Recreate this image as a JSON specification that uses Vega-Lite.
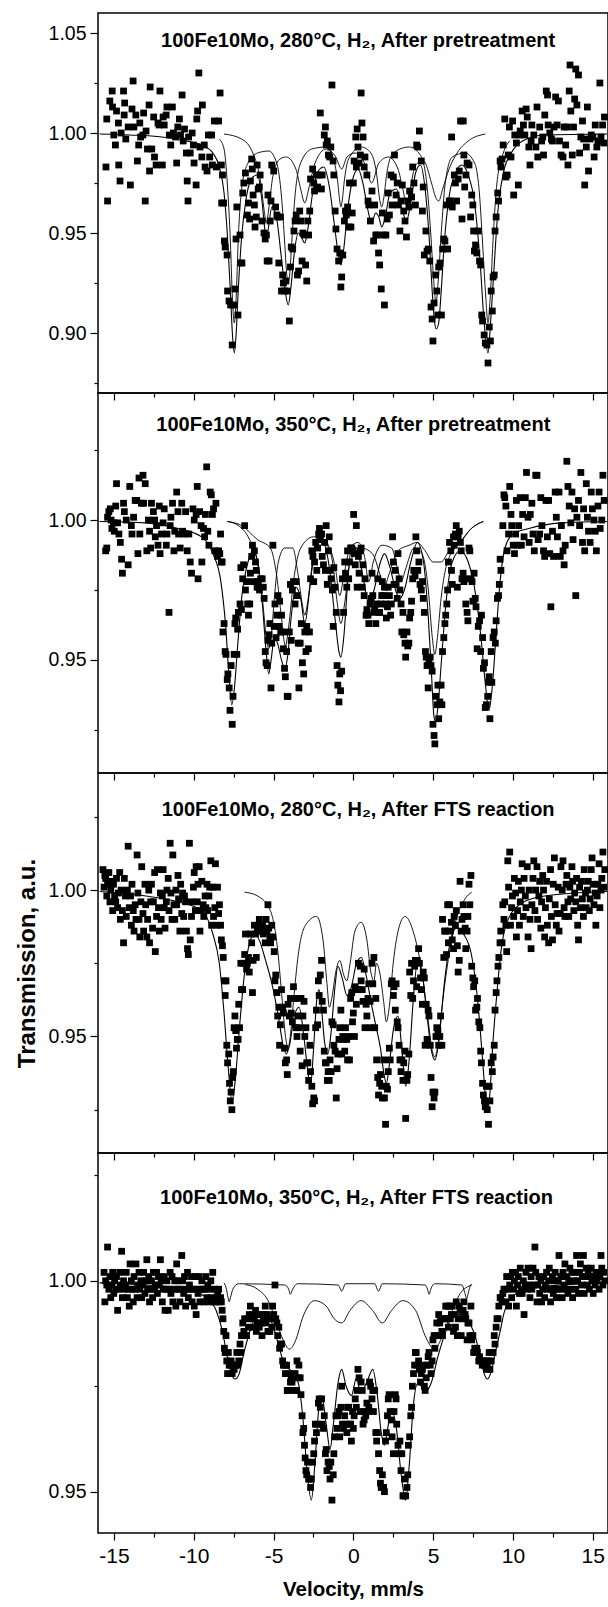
{
"$schema": "https://vega.github.io/schema/vega-lite/v6.json",
"background": "white",
"padding": {"left": 14, "top": 12, "right": 0, "bottom": 0},
"spacing": 0,
"bounds": "flush",
"config": {"view": {"stroke": "black", "strokeWidth": 1.5}, "font": "Liberation Sans",
 "axis": {"labelFont": "Liberation Sans", "titleFont": "Liberation Sans", "labelColor": "black", "titleColor": "black", "tickColor": "black", "tickWidth": 1.2, "domain": false, "grid": false}},
"datasets": {
"p1": [{"v":-15.5,"t":0.983},{"v":-15.4,"t":0.966},{"v":-15.45,"t":1.007},{"v":-15.26,"t":1.016},{"v":-15.11,"t":1.021},{"v":-15.09,"t":1.013},{"v":-15.01,"t":0.999},{"v":-14.91,"t":0.994},{"v":-14.84,"t":1.011},{"v":-14.72,"t":1.005},{"v":-14.7,"t":0.984},{"v":-14.62,"t":0.976},{"v":-14.55,"t":1.0},{"v":-14.4,"t":1.021},{"v":-14.36,"t":1.009},{"v":-14.33,"t":1.015},{"v":-14.26,"t":0.997},{"v":-14.11,"t":1.003},{"v":-13.97,"t":0.974},{"v":-13.87,"t":1.012},{"v":-13.8,"t":1.026},{"v":-13.75,"t":1.003},{"v":-13.63,"t":1.009},{"v":-13.53,"t":0.986},{"v":-13.45,"t":0.994},{"v":-13.38,"t":1.005},{"v":-13.33,"t":0.998},{"v":-13.19,"t":0.999},{"v":-13.14,"t":1.01},{"v":-13.04,"t":0.966},{"v":-12.99,"t":1.001},{"v":-12.9,"t":0.992},{"v":-12.8,"t":1.014},{"v":-12.77,"t":0.981},{"v":-12.73,"t":1.023},{"v":-12.63,"t":0.992},{"v":-12.51,"t":1.008},{"v":-12.46,"t":0.988},{"v":-12.36,"t":0.984},{"v":-12.24,"t":1.005},{"v":-12.17,"t":1.004},{"v":-12.12,"t":1.021},{"v":-11.97,"t":0.984},{"v":-11.92,"t":1.008},{"v":-11.85,"t":1.004},{"v":-11.73,"t":1.009},{"v":-11.68,"t":1.013},{"v":-11.53,"t":0.999},{"v":-11.44,"t":0.994},{"v":-11.34,"t":1.013},{"v":-11.27,"t":1.0},{"v":-11.14,"t":0.998},{"v":-11.07,"t":0.985},{"v":-11.0,"t":1.003},{"v":-10.9,"t":1.007},{"v":-10.83,"t":0.999},{"v":-10.73,"t":1.019},{"v":-10.66,"t":0.996},{"v":-10.58,"t":1.002},{"v":-10.46,"t":0.99},{"v":-10.41,"t":0.976},{"v":-10.36,"t":0.966},{"v":-10.32,"t":0.998},{"v":-10.22,"t":0.99},{"v":-10.1,"t":1.0},{"v":-10.02,"t":0.994},{"v":-9.98,"t":0.985},{"v":-9.85,"t":0.974},{"v":-9.81,"t":1.007},{"v":-9.76,"t":1.011},{"v":-9.68,"t":1.03},{"v":-9.61,"t":0.993},{"v":-9.49,"t":0.988},{"v":-9.46,"t":1.014},{"v":-9.34,"t":0.994},{"v":-9.29,"t":0.983},{"v":-9.17,"t":0.981},{"v":-9.08,"t":0.999},{"v":-9.0,"t":0.988},{"v":-8.88,"t":0.999},{"v":-8.83,"t":0.984},{"v":-8.71,"t":1.006},{"v":-8.59,"t":0.983},{"v":-8.44,"t":1.006},{"v":-8.35,"t":1.02},{"v":-8.27,"t":0.984},{"v":-8.25,"t":0.965},
{"v":-8.2,"t":0.979},{"v":-8.13,"t":0.965},{"v":-8.08,"t":0.946},{"v":-8.03,"t":0.943},{"v":-7.91,"t":0.939},{"v":-7.88,"t":0.921},{"v":-7.79,"t":0.916},{"v":-7.69,"t":0.914},{"v":-7.59,"t":0.894},{"v":-7.49,"t":0.914},{"v":-7.42,"t":0.922},{"v":-7.35,"t":0.947},{"v":-7.3,"t":0.963},{"v":-7.23,"t":0.909},{"v":-7.1,"t":0.949},{"v":-7.06,"t":0.935},{"v":-6.98,"t":0.935},{"v":-6.93,"t":0.97},{"v":-6.86,"t":0.975},{"v":-6.76,"t":0.98},{"v":-6.64,"t":0.959},{"v":-6.57,"t":0.965},{"v":-6.5,"t":0.957},{"v":-6.45,"t":0.976},{"v":-6.37,"t":0.987},{"v":-6.33,"t":0.982},{"v":-6.28,"t":0.969},{"v":-6.2,"t":0.964},{"v":-6.16,"t":0.953},{"v":-6.08,"t":0.958},{"v":-6.03,"t":0.984},{"v":-5.96,"t":0.972},{"v":-5.89,"t":0.973},{"v":-5.84,"t":0.979},{"v":-5.72,"t":0.956},{"v":-5.6,"t":0.95},{"v":-5.52,"t":0.947},{"v":-5.45,"t":0.949},{"v":-5.4,"t":0.936},{"v":-5.35,"t":0.969},{"v":-5.28,"t":0.936},{"v":-5.21,"t":0.956},{"v":-5.16,"t":0.966},{"v":-5.11,"t":0.984},{"v":-4.99,"t":0.981},{"v":-4.87,"t":0.963},{"v":-4.79,"t":0.959},{"v":-4.74,"t":0.958},{"v":-4.67,"t":0.935},{"v":-4.57,"t":0.958},{"v":-4.5,"t":0.921},{"v":-4.43,"t":0.929},{"v":-4.38,"t":0.925},{"v":-4.31,"t":0.921},{"v":-4.23,"t":0.926},{"v":-4.14,"t":0.921},{"v":-4.01,"t":0.906},{"v":-3.94,"t":0.933},{"v":-3.89,"t":0.943},{"v":-3.8,"t":0.942},{"v":-3.72,"t":0.951},{"v":-3.65,"t":0.956},{"v":-3.58,"t":0.959},{"v":-3.5,"t":0.929},{"v":-3.43,"t":0.931},{"v":-3.36,"t":0.961},{"v":-3.28,"t":0.956},{"v":-3.21,"t":0.936},{"v":-3.16,"t":0.95},{"v":-3.07,"t":0.949},{"v":-2.99,"t":0.934},{"v":-2.92,"t":0.926},{"v":-2.85,"t":0.956},{"v":-2.8,"t":0.949},{"v":-2.73,"t":0.961},{"v":-2.68,"t":0.977},{"v":-2.55,"t":0.982},{"v":-2.48,"t":0.975},{"v":-2.43,"t":0.971},{"v":-2.31,"t":0.979},{"v":-2.24,"t":0.973},{"v":-2.14,"t":0.979},{"v":-2.07,"t":1.01},{"v":-2.0,"t":0.972},{"v":-1.95,"t":0.979},{"v":-1.82,"t":0.999},{"v":-1.75,"t":1.003},{"v":-1.7,"t":0.994},{"v":-1.63,"t":0.996},{"v":-1.56,"t":0.989},{"v":-1.48,"t":0.988},{"v":-1.41,"t":0.993},{"v":-1.34,"t":1.024},{"v":-1.27,"t":0.986},{"v":-1.22,"t":0.979},{"v":-1.14,"t":0.961},{"v":-1.09,"t":0.952},{"v":-1.02,"t":0.942},{"v":-0.92,"t":0.936},{"v":-0.85,"t":0.94},{"v":-0.78,"t":0.923},{"v":-0.73,"t":0.928},{"v":-0.66,"t":0.939},{"v":-0.56,"t":0.956},{"v":-0.49,"t":0.961},{"v":-0.44,"t":0.959},{"v":-0.36,"t":0.963},{"v":-0.29,"t":0.953},{"v":-0.24,"t":0.975},{"v":-0.15,"t":0.953},{"v":-0.07,"t":0.96},{"v":0,"t":0.975},{"v":0.05,"t":0.986},{"v":0.15,"t":0.998},{"v":0.19,"t":0.983},{"v":0.24,"t":1.002},{"v":0.29,"t":0.993},{"v":0.36,"t":0.985},{"v":0.44,"t":0.989},{"v":0.49,"t":1.02},{"v":0.54,"t":1.005},{"v":0.61,"t":0.998},{"v":0.68,"t":0.983},{"v":0.73,"t":0.988},{"v":0.85,"t":0.979},{"v":0.92,"t":0.966},{"v":0.97,"t":0.964},{"v":1.07,"t":0.956},{"v":1.17,"t":0.971},{"v":1.27,"t":0.946},{"v":1.34,"t":0.964},{"v":1.41,"t":0.949},{"v":1.51,"t":0.949},{"v":1.58,"t":0.94},{"v":1.65,"t":0.934},{"v":1.75,"t":0.922},{"v":1.82,"t":0.96},{"v":1.9,"t":0.949},{"v":1.95,"t":0.914},{"v":2.04,"t":0.949},{"v":2.12,"t":0.957},{"v":2.19,"t":0.97},{"v":2.26,"t":0.959},{"v":2.36,"t":0.979},{"v":2.43,"t":0.964},{"v":2.51,"t":0.978},{"v":2.58,"t":0.989},{"v":2.68,"t":0.969},{"v":2.75,"t":0.975},{"v":2.8,"t":0.964},{"v":2.92,"t":0.951},{"v":2.99,"t":0.966},{"v":3.07,"t":0.974},{"v":3.16,"t":0.961},{"v":3.24,"t":0.956},{"v":3.33,"t":0.948},{"v":3.41,"t":0.966},{"v":3.48,"t":0.963},{"v":3.53,"t":0.971},{"v":3.65,"t":0.968},{"v":3.72,"t":0.983},{"v":3.8,"t":0.975},{"v":3.89,"t":0.964},{"v":3.97,"t":0.994},{"v":4.04,"t":0.993},{"v":4.14,"t":1.001},{"v":4.26,"t":0.986},{"v":4.33,"t":0.961},{"v":4.38,"t":0.973},{"v":4.45,"t":0.939},{"v":4.55,"t":0.951},{"v":4.62,"t":0.941},{"v":4.7,"t":0.942},{"v":4.79,"t":0.936},{"v":4.87,"t":0.913},{"v":4.94,"t":0.907},{"v":4.99,"t":0.896},{"v":5.06,"t":0.915},{"v":5.16,"t":0.929},{"v":5.23,"t":0.921},{"v":5.3,"t":0.909},{"v":5.35,"t":0.933},{"v":5.43,"t":0.935},{"v":5.52,"t":0.909},{"v":5.6,"t":0.942},{"v":5.67,"t":0.947},{"v":5.74,"t":0.946},{"v":5.84,"t":0.964},{"v":5.91,"t":0.942},{"v":6.01,"t":0.966},{"v":6.08,"t":0.966},{"v":6.16,"t":0.998},{"v":6.2,"t":0.963},{"v":6.33,"t":0.979},{"v":6.4,"t":0.975},{"v":6.47,"t":0.966},{"v":6.57,"t":0.977},{"v":6.64,"t":0.981},{"v":6.72,"t":1.006},{"v":6.81,"t":0.957},{"v":6.89,"t":1.006},{"v":6.93,"t":0.989},{"v":6.98,"t":0.973},{"v":7.06,"t":0.979},{"v":7.13,"t":0.985},{"v":7.25,"t":0.984},{"v":7.35,"t":0.958},{"v":7.42,"t":0.969},{"v":7.49,"t":0.964},{"v":7.54,"t":0.951},{"v":7.59,"t":0.941},{"v":7.66,"t":0.944},{"v":7.74,"t":0.94},{"v":7.83,"t":0.951},{"v":7.91,"t":0.936},{"v":7.98,"t":0.934},{"v":8.05,"t":0.909},{"v":8.1,"t":0.906},{"v":8.2,"t":0.899},{"v":8.27,"t":0.895},{"v":8.37,"t":0.894},{"v":8.44,"t":0.885},{"v":8.52,"t":0.903},{"v":8.59,"t":0.896},{"v":8.64,"t":0.921},{"v":8.71,"t":0.911},{"v":8.76,"t":0.928},{"v":8.83,"t":0.929},{"v":8.88,"t":0.951},{"v":8.95,"t":0.958},{"v":9.05,"t":0.97},{"v":9.1,"t":0.966},{"v":9.2,"t":0.986},{"v":9.25,"t":0.983},
{"v":9.32,"t":0.987},{"v":9.39,"t":0.994},{"v":9.49,"t":1.007},{"v":9.56,"t":0.978},{"v":9.64,"t":0.979},{"v":9.71,"t":0.989},{"v":9.78,"t":1.003},{"v":9.88,"t":0.988},{"v":9.98,"t":1.006},{"v":10.05,"t":0.969},{"v":10.12,"t":0.999},{"v":10.22,"t":0.995},{"v":10.34,"t":0.974},{"v":10.41,"t":0.999},{"v":10.46,"t":1.001},{"v":10.58,"t":1.011},{"v":10.66,"t":1.004},{"v":10.75,"t":0.999},{"v":10.83,"t":1.012},{"v":10.9,"t":1.008},{"v":11.0,"t":0.993},{"v":11.07,"t":0.984},{"v":11.14,"t":0.996},{"v":11.19,"t":1.004},{"v":11.31,"t":0.999},{"v":11.44,"t":0.993},{"v":11.51,"t":1.013},{"v":11.56,"t":0.988},{"v":11.68,"t":1.003},{"v":11.8,"t":0.996},{"v":11.87,"t":0.998},{"v":11.92,"t":0.989},{"v":12.0,"t":1.009},{"v":12.09,"t":1.021},{"v":12.17,"t":1.019},{"v":12.21,"t":1.004},{"v":12.31,"t":1.0},{"v":12.41,"t":0.997},{"v":12.48,"t":0.996},{"v":12.58,"t":1.003},{"v":12.68,"t":1.018},{"v":12.77,"t":1.004},{"v":12.85,"t":1.016},{"v":12.92,"t":0.996},{"v":13.02,"t":0.989},{"v":13.14,"t":0.988},{"v":13.21,"t":1.003},{"v":13.31,"t":0.994},{"v":13.38,"t":1.003},{"v":13.45,"t":0.984},{"v":13.53,"t":1.021},{"v":13.58,"t":1.034},{"v":13.63,"t":1.011},{"v":13.72,"t":0.989},{"v":13.8,"t":1.003},{"v":13.87,"t":1.017},{"v":13.94,"t":1.032},{"v":14.01,"t":1.014},{"v":14.11,"t":1.029},{"v":14.18,"t":0.99},{"v":14.26,"t":0.998},{"v":14.36,"t":1.006},{"v":14.43,"t":0.997},{"v":14.5,"t":0.974},{"v":14.6,"t":0.993},{"v":14.67,"t":1.013},{"v":14.74,"t":0.981},{"v":14.84,"t":0.997},{"v":14.91,"t":0.999},{"v":15.01,"t":0.998},{"v":15.09,"t":0.988},{"v":15.16,"t":1.004},{"v":15.26,"t":0.993},{"v":15.33,"t":0.996},{"v":15.45,"t":1.025},{"v":15.52,"t":0.998},{"v":15.62,"t":1.004},{"v":15.69,"t":0.995},{"v":15.74,"t":1.008}],
"f1": [{"v":-15.9,"t":0.9995},{"v":-14,"t":0.999},{"v":-12,"t":0.998},{"v":-10.5,"t":0.996},{"v":-9.5,"t":0.994},{"v":-8.8,"t":0.99},{"v":-8.4,"t":0.983},{"v":-8.1,"t":0.97},{"v":-7.9,"t":0.95},{"v":-7.7,"t":0.92},{"v":-7.58,"t":0.9},{"v":-7.46,"t":0.89},{"v":-7.34,"t":0.9},{"v":-7.22,"t":0.92},{"v":-7.0,"t":0.948},{"v":-6.7,"t":0.968},{"v":-6.3,"t":0.978},{"v":-6.0,"t":0.979},{"v":-5.75,"t":0.968},{"v":-5.55,"t":0.952},{"v":-5.45,"t":0.946},{"v":-5.33,"t":0.952},{"v":-5.1,"t":0.963},{"v":-4.8,"t":0.957},{"v":-4.5,"t":0.937},{"v":-4.25,"t":0.92},{"v":-4.08,"t":0.914},{"v":-3.92,"t":0.922},{"v":-3.7,"t":0.94},{"v":-3.45,"t":0.95},{"v":-3.2,"t":0.947},{"v":-3.04,"t":0.945},{"v":-2.85,"t":0.952},{"v":-2.55,"t":0.97},{"v":-2.2,"t":0.981},{"v":-1.85,"t":0.983},{"v":-1.5,"t":0.973},{"v":-1.2,"t":0.955},{"v":-0.95,"t":0.94},{"v":-0.78,"t":0.934},{"v":-0.6,"t":0.942},{"v":-0.35,"t":0.962},{"v":0,"t":0.978},{"v":0.3,"t":0.982},{"v":0.6,"t":0.975},{"v":0.9,"t":0.962},{"v":1.15,"t":0.955},{"v":1.4,"t":0.96},{"v":1.6,"t":0.958},{"v":1.78,"t":0.953},{"v":2.0,"t":0.958},{"v":2.3,"t":0.97},{"v":2.7,"t":0.972},{"v":3.05,"t":0.962},{"v":3.33,"t":0.956},{"v":3.6,"t":0.965},{"v":3.9,"t":0.98},{"v":4.2,"t":0.984},{"v":4.5,"t":0.972},{"v":4.75,"t":0.948},{"v":4.95,"t":0.92},{"v":5.1,"t":0.905},{"v":5.2,"t":0.902},{"v":5.35,"t":0.905},{"v":5.5,"t":0.92},{"v":5.7,"t":0.945},{"v":6.0,"t":0.968},{"v":6.4,"t":0.98},{"v":6.8,"t":0.984},{"v":7.2,"t":0.979},{"v":7.6,"t":0.965},{"v":7.95,"t":0.935},{"v":8.2,"t":0.905},{"v":8.44,"t":0.89},{"v":8.6,"t":0.905},{"v":8.8,"t":0.93},{"v":9.05,"t":0.96},{"v":9.4,"t":0.98},{"v":9.9,"t":0.99},{"v":10.6,"t":0.996},{"v":12,"t":0.999},{"v":15.9,"t":0.9995}],
"a1": [{"v":-8.4,"t":0.997},{"v":-8.1,"t":0.992},{"v":-7.9,"t":0.975},{"v":-7.7,"t":0.945},{"v":-7.58,"t":0.918},{"v":-7.46,"t":0.905},{"v":-7.34,"t":0.918},{"v":-7.22,"t":0.945},{"v":-7.0,"t":0.972},{"v":-6.6,"t":0.985},{"v":-6.0,"t":0.99},{"v":-5.3,"t":0.991},{"v":-4.8,"t":0.985},{"v":-4.5,"t":0.968},{"v":-4.3,"t":0.945},{"v":-4.18,"t":0.93},{"v":-4.08,"t":0.925},{"v":-3.98,"t":0.93},{"v":-3.86,"t":0.945},{"v":-3.66,"t":0.968},{"v":-3.3,"t":0.985},{"v":-2.6,"t":0.992},{"v":-1.7,"t":0.993},{"v":-1.25,"t":0.987},{"v":-1.0,"t":0.977},{"v":-0.85,"t":0.966},{"v":-0.78,"t":0.963},{"v":-0.7,"t":0.966},{"v":-0.55,"t":0.977},{"v":-0.3,"t":0.987},{"v":0.5,"t":0.993},{"v":1.1,"t":0.99},{"v":1.45,"t":0.98},{"v":1.65,"t":0.967},{"v":1.78,"t":0.963},{"v":1.9,"t":0.967},{"v":2.1,"t":0.98},{"v":2.5,"t":0.99},{"v":3.5,"t":0.993},{"v":4.2,"t":0.989},{"v":4.6,"t":0.975},{"v":4.85,"t":0.95},{"v":5.05,"t":0.925},{"v":5.18,"t":0.915},{"v":5.31,"t":0.925},{"v":5.51,"t":0.95},{"v":5.76,"t":0.975},{"v":6.2,"t":0.988},{"v":7.0,"t":0.99},{"v":7.6,"t":0.985},{"v":7.9,"t":0.97},{"v":8.1,"t":0.945},{"v":8.3,"t":0.918},{"v":8.44,"t":0.905},{"v":8.58,"t":0.918},{"v":8.78,"t":0.95},{"v":9.0,"t":0.975},{"v":9.4,"t":0.99},{"v":9.8,"t":0.996}],
"b1": [{"v":-8.1,"t":0.9995},{"v":-7.0,"t":0.997},{"v":-6.3,"t":0.99},{"v":-5.8,"t":0.975},{"v":-5.6,"t":0.962},{"v":-5.45,"t":0.955},{"v":-5.3,"t":0.962},{"v":-5.05,"t":0.978},{"v":-4.6,"t":0.987},{"v":-4.2,"t":0.988},{"v":-3.6,"t":0.982},{"v":-3.3,"t":0.972},{"v":-3.04,"t":0.965},{"v":-2.8,"t":0.972},{"v":-2.4,"t":0.985},{"v":-1.7,"t":0.992},{"v":-1.1,"t":0.988},{"v":-0.73,"t":0.982},{"v":-0.4,"t":0.988},{"v":0.1,"t":0.99},{"v":0.7,"t":0.985},{"v":1.15,"t":0.975},{"v":1.6,"t":0.985},{"v":2.2,"t":0.988},{"v":2.8,"t":0.982},{"v":3.1,"t":0.972},{"v":3.33,"t":0.965},{"v":3.56,"t":0.972},{"v":3.9,"t":0.984},{"v":4.4,"t":0.986},{"v":4.9,"t":0.975},{"v":5.15,"t":0.968},{"v":5.35,"t":0.966},{"v":5.6,"t":0.972},{"v":6.0,"t":0.982},{"v":6.5,"t":0.99},{"v":7.2,"t":0.996},{"v":8.27,"t":0.9995}],
"p2": [{"v":-15.52,"t":0.989},{"v":-15.45,"t":0.99},{"v":-15.4,"t":1.001},{"v":-15.32,"t":1.003},{"v":-15.23,"t":1.004},{"v":-15.18,"t":1.0},{"v":-15.13,"t":0.997},{"v":-15.03,"t":0.999},{"v":-14.98,"t":0.996},{"v":-14.89,"t":1.005},{"v":-14.84,"t":1.013},{"v":-14.77,"t":0.999},{"v":-14.69,"t":0.995},{"v":-14.6,"t":0.992},{"v":-14.52,"t":0.986},{"v":-14.47,"t":0.981},{"v":-14.4,"t":1.006},{"v":-14.35,"t":1.003},{"v":-14.23,"t":1.0},{"v":-14.11,"t":0.984},{"v":-14.01,"t":1.012},{"v":-13.91,"t":0.998},{"v":-13.87,"t":0.995},{"v":-13.77,"t":1.001},{"v":-13.67,"t":1.007},{"v":-13.57,"t":1.007},{"v":-13.5,"t":0.988},{"v":-13.43,"t":1.015},{"v":-13.38,"t":0.995},{"v":-13.28,"t":1.006},{"v":-13.18,"t":1.016},{"v":-13.14,"t":1.006},{"v":-13.04,"t":1.013},{"v":-12.94,"t":0.989},{"v":-12.84,"t":1.0},{"v":-12.77,"t":0.996},{"v":-12.7,"t":0.99},{"v":-12.65,"t":1.006},{"v":-12.53,"t":1.003},{"v":-12.45,"t":1.0},{"v":-12.41,"t":0.994},{"v":-12.33,"t":0.998},{"v":-12.24,"t":0.991},{"v":-12.16,"t":1.005},{"v":-12.11,"t":0.988},{"v":-12.02,"t":0.995},{"v":-11.92,"t":0.999},{"v":-11.85,"t":1.004},{"v":-11.72,"t":0.991},{"v":-11.68,"t":0.995},{"v":-11.55,"t":0.967},{"v":-11.48,"t":0.998},{"v":-11.43,"t":1.001},{"v":-11.33,"t":1.006},{"v":-11.24,"t":0.989},{"v":-11.19,"t":0.996},{"v":-11.07,"t":1.01},{"v":-10.99,"t":1.003},{"v":-10.95,"t":0.995},{"v":-10.85,"t":0.99},{"v":-10.75,"t":1.006},{"v":-10.7,"t":0.996},{"v":-10.61,"t":0.995},{"v":-10.51,"t":1.003},{"v":-10.41,"t":0.989},{"v":-10.31,"t":0.995},{"v":-10.22,"t":0.985},{"v":-10.14,"t":0.981},{"v":-10.05,"t":1.004},{"v":-9.97,"t":1.0},{"v":-9.85,"t":1.002},{"v":-9.78,"t":1.012},{"v":-9.73,"t":0.979},{"v":-9.63,"t":1.003},{"v":-9.54,"t":0.998},{"v":-9.49,"t":0.985},{"v":-9.39,"t":0.997},{"v":-9.32,"t":0.994},{"v":-9.27,"t":1.002},{"v":-9.19,"t":1.019},{"v":-9.12,"t":0.996},{"v":-9.05,"t":0.991},{"v":-8.97,"t":1.01},{"v":-8.9,"t":1.009},{"v":-8.83,"t":1.002},{"v":-8.76,"t":1.004},{"v":-8.68,"t":0.989},{"v":-8.61,"t":1.006},{"v":-8.51,"t":0.987},{"v":-8.44,"t":0.989},{"v":-8.37,"t":0.988},{"v":-8.32,"t":0.995},{"v":-8.27,"t":0.985},
{"v":-8.22,"t":0.985},{"v":-8.17,"t":0.96},{"v":-8.1,"t":0.963},{"v":-8.03,"t":0.953},{"v":-7.98,"t":0.952},{"v":-7.9,"t":0.943},{"v":-7.86,"t":0.945},{"v":-7.78,"t":0.94},{"v":-7.73,"t":0.932},{"v":-7.66,"t":0.948},{"v":-7.59,"t":0.927},{"v":-7.54,"t":0.937},{"v":-7.47,"t":0.952},{"v":-7.42,"t":0.963},{"v":-7.37,"t":0.965},{"v":-7.3,"t":0.952},{"v":-7.25,"t":0.961},{"v":-7.2,"t":0.967},{"v":-7.1,"t":0.97},{"v":-7.05,"t":0.983},{"v":-7.01,"t":0.968},{"v":-6.93,"t":0.979},{"v":-6.88,"t":0.984},{"v":-6.81,"t":0.998},{"v":-6.76,"t":0.975},{"v":-6.69,"t":0.978},{"v":-6.62,"t":0.97},{"v":-6.57,"t":0.966},{"v":-6.49,"t":0.97},{"v":-6.45,"t":0.981},{"v":-6.37,"t":0.987},{"v":-6.32,"t":0.991},{"v":-6.27,"t":0.978},{"v":-6.2,"t":0.989},{"v":-6.13,"t":0.985},{"v":-6.08,"t":0.982},{"v":-6.03,"t":0.976},{"v":-5.96,"t":0.978},{"v":-5.88,"t":0.975},{"v":-5.81,"t":0.979},{"v":-5.71,"t":0.979},{"v":-5.64,"t":0.976},{"v":-5.59,"t":0.972},{"v":-5.52,"t":0.953},{"v":-5.47,"t":0.949},{"v":-5.4,"t":0.948},{"v":-5.35,"t":0.957},{"v":-5.28,"t":0.959},{"v":-5.23,"t":0.963},{"v":-5.16,"t":0.94},{"v":-5.11,"t":0.956},{"v":-5.04,"t":0.991},{"v":-4.96,"t":0.962},{"v":-4.91,"t":0.97},{"v":-4.84,"t":0.958},{"v":-4.79,"t":0.966},{"v":-4.72,"t":0.973},{"v":-4.67,"t":0.962},{"v":-4.62,"t":0.971},{"v":-4.55,"t":0.96},{"v":-4.5,"t":0.966},{"v":-4.43,"t":0.96},{"v":-4.38,"t":0.954},{"v":-4.31,"t":0.947},{"v":-4.26,"t":0.944},{"v":-4.18,"t":0.953},{"v":-4.14,"t":0.937},{"v":-4.09,"t":0.937},{"v":-4.01,"t":0.96},{"v":-3.94,"t":0.977},{"v":-3.89,"t":0.957},{"v":-3.82,"t":0.975},{"v":-3.75,"t":0.978},{"v":-3.65,"t":0.97},{"v":-3.58,"t":0.978},{"v":-3.53,"t":0.973},{"v":-3.45,"t":0.956},{"v":-3.41,"t":0.94},{"v":-3.33,"t":0.956},{"v":-3.26,"t":0.963},{"v":-3.19,"t":0.949},{"v":-3.11,"t":0.945},{"v":-3.04,"t":0.96},{"v":-2.97,"t":0.953},{"v":-2.92,"t":0.962},{"v":-2.82,"t":0.954},{"v":-2.75,"t":0.96},{"v":-2.68,"t":0.979},{"v":-2.6,"t":0.989},{"v":-2.53,"t":0.987},{"v":-2.48,"t":0.978},{"v":-2.43,"t":0.985},{"v":-2.36,"t":0.992},{"v":-2.29,"t":0.982},{"v":-2.24,"t":0.99},{"v":-2.17,"t":0.995},{"v":-2.12,"t":0.997},{"v":-2.07,"t":0.993},{"v":-1.99,"t":0.995},{"v":-1.95,"t":0.987},{"v":-1.87,"t":0.984},{"v":-1.8,"t":0.992},{"v":-1.75,"t":0.982},{"v":-1.7,"t":0.998},{"v":-1.63,"t":0.977},{"v":-1.56,"t":0.989},{"v":-1.51,"t":0.994},{"v":-1.44,"t":0.982},{"v":-1.39,"t":0.979},{"v":-1.31,"t":0.975},{"v":-1.26,"t":0.962},{"v":-1.22,"t":0.983},{"v":-1.14,"t":0.976},{"v":-1.07,"t":0.967},{"v":-1.02,"t":0.948},{"v":-0.97,"t":0.941},{"v":-0.9,"t":0.935},{"v":-0.85,"t":0.945},{"v":-0.8,"t":0.939},{"v":-0.73,"t":0.946},{"v":-0.68,"t":0.979},{"v":-0.61,"t":0.967},{"v":-0.54,"t":0.985},{"v":-0.49,"t":0.981},{"v":-0.41,"t":0.976},{"v":-0.36,"t":0.989},{"v":-0.29,"t":0.979},{"v":-0.24,"t":0.985},{"v":-0.17,"t":0.99},{"v":-0.1,"t":0.99},{"v":-0.05,"t":0.989},{"v":0.02,"t":1.002},{"v":0.07,"t":0.988},{"v":0.12,"t":0.984},{"v":0.19,"t":0.998},{"v":0.24,"t":0.976},{"v":0.32,"t":0.987},{"v":0.36,"t":0.981},{"v":0.44,"t":0.989},{"v":0.49,"t":0.99},{"v":0.56,"t":0.976},{"v":0.61,"t":0.984},{"v":0.68,"t":0.973},{"v":0.73,"t":0.979},{"v":0.8,"t":0.966},{"v":0.85,"t":0.968},{"v":0.92,"t":0.966},{"v":0.97,"t":0.963},{"v":1.05,"t":0.97},{"v":1.12,"t":0.972},{"v":1.17,"t":0.981},{"v":1.22,"t":0.973},{"v":1.29,"t":0.967},{"v":1.34,"t":0.968},{"v":1.41,"t":0.963},{"v":1.46,"t":0.97},{"v":1.53,"t":0.979},{"v":1.61,"t":0.967},{"v":1.65,"t":0.967},{"v":1.73,"t":0.97},{"v":1.78,"t":0.973},{"v":1.82,"t":0.978},{"v":1.9,"t":0.973},{"v":1.95,"t":0.976},{"v":2.02,"t":0.97},{"v":2.07,"t":0.965},{"v":2.14,"t":0.969},{"v":2.19,"t":0.976},{"v":2.26,"t":0.973},{"v":2.34,"t":0.966},{"v":2.38,"t":0.97},{"v":2.46,"t":0.994},{"v":2.51,"t":0.985},{"v":2.55,"t":0.977},{"v":2.63,"t":0.982},{"v":2.68,"t":0.977},{"v":2.75,"t":0.972},{"v":2.8,"t":0.988},{"v":2.87,"t":0.979},{"v":2.92,"t":0.975},{"v":2.99,"t":0.97},{"v":3.04,"t":0.96},{"v":3.11,"t":0.967},{"v":3.16,"t":0.959},{"v":3.24,"t":0.956},{"v":3.28,"t":0.951},{"v":3.36,"t":0.96},{"v":3.41,"t":0.955},{"v":3.48,"t":0.956},{"v":3.53,"t":0.965},{"v":3.6,"t":0.967},{"v":3.65,"t":0.971},{"v":3.72,"t":0.979},{"v":3.79,"t":0.982},{"v":3.87,"t":0.98},{"v":3.92,"t":0.994},{"v":3.97,"t":0.989},{"v":4.04,"t":0.982},{"v":4.11,"t":0.985},{"v":4.18,"t":0.977},{"v":4.26,"t":0.975},{"v":4.33,"t":0.978},{"v":4.38,"t":0.972},{"v":4.45,"t":0.967},{"v":4.52,"t":0.953},{"v":4.57,"t":0.951},{"v":4.62,"t":0.948},{"v":4.69,"t":0.94},{"v":4.74,"t":0.95},{"v":4.82,"t":0.951},{"v":4.87,"t":0.948},{"v":4.94,"t":0.946},{"v":4.99,"t":0.927},{"v":5.06,"t":0.923},{"v":5.11,"t":0.92},{"v":5.18,"t":0.937},{"v":5.25,"t":0.934},{"v":5.3,"t":0.941},{"v":5.35,"t":0.929},{"v":5.42,"t":0.935},{"v":5.5,"t":0.941},{"v":5.55,"t":0.934},{"v":5.59,"t":0.953},{"v":5.67,"t":0.958},{"v":5.74,"t":0.963},{"v":5.79,"t":0.966},{"v":5.86,"t":0.97},{"v":5.91,"t":0.975},{"v":5.96,"t":0.985},{"v":6.03,"t":0.992},{"v":6.11,"t":0.989},{"v":6.15,"t":0.982},{"v":6.2,"t":0.977},{"v":6.28,"t":0.994},{"v":6.32,"t":0.991},{"v":6.4,"t":0.995},{"v":6.45,"t":0.998},{"v":6.52,"t":0.976},{"v":6.57,"t":0.994},{"v":6.64,"t":0.996},{"v":6.71,"t":0.992},{"v":6.76,"t":0.989},{"v":6.81,"t":0.979},{"v":6.88,"t":0.981},{"v":6.93,"t":0.978},{"v":7.01,"t":0.979},{"v":7.05,"t":0.97},{"v":7.13,"t":0.967},{"v":7.18,"t":0.964},{"v":7.25,"t":0.99},{"v":7.3,"t":0.989},{"v":7.37,"t":0.979},{"v":7.44,"t":0.978},{"v":7.49,"t":0.971},{"v":7.57,"t":0.981},{"v":7.64,"t":0.972},{"v":7.69,"t":0.969},{"v":7.76,"t":0.954},{"v":7.83,"t":0.962},{"v":7.91,"t":0.964},{"v":7.98,"t":0.953},{"v":8.03,"t":0.966},{"v":8.1,"t":0.958},{"v":8.15,"t":0.947},{"v":8.22,"t":0.949},{"v":8.27,"t":0.933},{"v":8.34,"t":0.934},{"v":8.42,"t":0.937},{"v":8.47,"t":0.942},{"v":8.51,"t":0.944},{"v":8.56,"t":0.929},{"v":8.64,"t":0.953},{"v":8.68,"t":0.942},{"v":8.76,"t":0.958},{"v":8.83,"t":0.96},{"v":8.9,"t":0.956},{"v":8.95,"t":0.964},{"v":9.03,"t":0.972},{"v":9.1,"t":0.973},{"v":9.15,"t":0.977},{"v":9.2,"t":0.986},{"v":9.25,"t":0.982},
{"v":9.37,"t":0.998},{"v":9.44,"t":1.009},{"v":9.49,"t":1.008},{"v":9.56,"t":1.005},{"v":9.63,"t":0.989},{"v":9.73,"t":0.995},{"v":9.8,"t":1.012},{"v":9.88,"t":1.002},{"v":9.93,"t":0.998},{"v":10.02,"t":0.991},{"v":10.1,"t":0.988},{"v":10.17,"t":0.995},{"v":10.22,"t":1.007},{"v":10.29,"t":0.991},{"v":10.36,"t":0.998},{"v":10.46,"t":1.008},{"v":10.53,"t":0.991},{"v":10.61,"t":1.002},{"v":10.7,"t":0.994},{"v":10.78,"t":1.008},{"v":10.85,"t":1.017},{"v":10.95,"t":1.001},{"v":11.02,"t":0.992},{"v":11.09,"t":1.002},{"v":11.19,"t":1.006},{"v":11.26,"t":0.995},{"v":11.34,"t":0.989},{"v":11.43,"t":1.016},{"v":11.51,"t":1.016},{"v":11.58,"t":0.993},{"v":11.68,"t":0.995},{"v":11.75,"t":1.008},{"v":11.82,"t":0.998},{"v":11.92,"t":0.989},{"v":11.99,"t":0.987},{"v":12.07,"t":1.007},{"v":12.16,"t":0.994},{"v":12.24,"t":1.007},{"v":12.31,"t":0.988},{"v":12.38,"t":0.969},{"v":12.48,"t":0.996},{"v":12.55,"t":0.987},{"v":12.65,"t":1.01},{"v":12.72,"t":1.001},{"v":12.79,"t":0.994},{"v":12.89,"t":1.01},{"v":12.97,"t":0.987},{"v":13.04,"t":0.998},{"v":13.14,"t":0.989},{"v":13.21,"t":0.984},{"v":13.28,"t":0.991},{"v":13.38,"t":1.021},{"v":13.45,"t":1.012},{"v":13.53,"t":1.005},{"v":13.63,"t":0.999},{"v":13.7,"t":1.01},{"v":13.77,"t":0.993},{"v":13.87,"t":1.004},{"v":13.94,"t":0.973},{"v":14.01,"t":1.001},{"v":14.11,"t":1.007},{"v":14.18,"t":0.998},{"v":14.26,"t":1.017},{"v":14.36,"t":0.992},{"v":14.43,"t":1.004},{"v":14.5,"t":0.989},{"v":14.6,"t":1.013},{"v":14.67,"t":1.001},{"v":14.74,"t":0.996},{"v":14.84,"t":0.992},{"v":14.91,"t":1.01},{"v":14.98,"t":1.004},{"v":15.08,"t":1.0},{"v":15.16,"t":0.996},{"v":15.23,"t":0.989},{"v":15.33,"t":1.005},{"v":15.4,"t":1.01},{"v":15.47,"t":0.997},{"v":15.57,"t":1.0},{"v":15.64,"t":1.016},{"v":15.72,"t":1.007}],
"f2": [{"v":-15.9,"t":0.9995},{"v":-13,"t":0.999},{"v":-11,"t":0.997},{"v":-9.5,"t":0.994},{"v":-8.8,"t":0.988},{"v":-8.3,"t":0.978},{"v":-8.0,"t":0.962},{"v":-7.8,"t":0.945},{"v":-7.62,"t":0.934},{"v":-7.45,"t":0.94},{"v":-7.25,"t":0.955},{"v":-7.0,"t":0.972},{"v":-6.6,"t":0.985},{"v":-6.3,"t":0.989},{"v":-6.0,"t":0.985},{"v":-5.7,"t":0.97},{"v":-5.45,"t":0.952},{"v":-5.3,"t":0.945},{"v":-5.15,"t":0.95},{"v":-4.95,"t":0.958},{"v":-4.75,"t":0.956},{"v":-4.5,"t":0.95},{"v":-4.3,"t":0.947},{"v":-4.1,"t":0.952},{"v":-3.9,"t":0.965},{"v":-3.6,"t":0.976},{"v":-3.3,"t":0.972},{"v":-3.04,"t":0.963},{"v":-2.8,"t":0.972},{"v":-2.5,"t":0.988},{"v":-2.2,"t":0.995},{"v":-1.9,"t":0.993},{"v":-1.5,"t":0.983},{"v":-1.15,"t":0.965},{"v":-0.9,"t":0.953},{"v":-0.78,"t":0.951},{"v":-0.6,"t":0.958},{"v":-0.35,"t":0.978},{"v":-0.1,"t":0.991},{"v":0.2,"t":0.99},{"v":0.6,"t":0.98},{"v":0.97,"t":0.97},{"v":1.3,"t":0.975},{"v":1.7,"t":0.985},{"v":1.95,"t":0.988},{"v":2.3,"t":0.983},{"v":2.7,"t":0.974},{"v":2.92,"t":0.972},{"v":3.2,"t":0.975},{"v":3.6,"t":0.985},{"v":4.01,"t":0.992},{"v":4.4,"t":0.985},{"v":4.7,"t":0.965},{"v":4.9,"t":0.945},{"v":5.05,"t":0.93},{"v":5.15,"t":0.928},{"v":5.3,"t":0.933},{"v":5.5,"t":0.948},{"v":5.8,"t":0.97},{"v":6.2,"t":0.985},{"v":6.7,"t":0.989},{"v":7.2,"t":0.985},{"v":7.7,"t":0.972},{"v":8.0,"t":0.958},{"v":8.3,"t":0.94},{"v":8.5,"t":0.932},{"v":8.7,"t":0.94},{"v":8.9,"t":0.955},{"v":9.15,"t":0.975},{"v":9.5,"t":0.99},{"v":10,"t":0.995},{"v":11,"t":0.997},{"v":13,"t":0.999},{"v":15.9,"t":0.9995}],
"a2": [{"v":-7.9,"t":0.9995},{"v":-7.2,"t":0.998},{"v":-6.5,"t":0.993},{"v":-6.0,"t":0.985},{"v":-5.7,"t":0.972},{"v":-5.45,"t":0.958},{"v":-5.3,"t":0.954},{"v":-5.15,"t":0.958},{"v":-4.95,"t":0.972},{"v":-4.7,"t":0.985},{"v":-4.3,"t":0.99},{"v":-3.8,"t":0.99},{"v":-3.45,"t":0.98},{"v":-3.2,"t":0.97},{"v":-3.04,"t":0.966},{"v":-2.88,"t":0.97},{"v":-2.6,"t":0.982},{"v":-2.1,"t":0.992},{"v":-1.5,"t":0.99},{"v":-1.1,"t":0.982},{"v":-0.85,"t":0.973},{"v":-0.6,"t":0.98},{"v":-0.2,"t":0.99},{"v":0.3,"t":0.992},{"v":0.7,"t":0.987},{"v":0.97,"t":0.978},{"v":1.25,"t":0.985},{"v":1.8,"t":0.991},{"v":2.4,"t":0.99},{"v":2.8,"t":0.982},{"v":3.0,"t":0.978},{"v":3.25,"t":0.982},{"v":3.8,"t":0.99},{"v":4.3,"t":0.988},{"v":4.7,"t":0.975},{"v":4.95,"t":0.958},{"v":5.11,"t":0.952},{"v":5.27,"t":0.958},{"v":5.5,"t":0.972},{"v":5.9,"t":0.985},{"v":6.69,"t":0.992},{"v":7.4,"t":0.997},{"v":8.15,"t":0.9995}],
"b2": [{"v":-7.9,"t":0.9995},{"v":-7.0,"t":0.998},{"v":-6.0,"t":0.993},{"v":-5.2,"t":0.99},{"v":-4.8,"t":0.98},{"v":-4.5,"t":0.965},{"v":-4.26,"t":0.955},{"v":-4.05,"t":0.962},{"v":-3.75,"t":0.978},{"v":-3.3,"t":0.99},{"v":-2.5,"t":0.994},{"v":-1.8,"t":0.993},{"v":-1.3,"t":0.985},{"v":-1.0,"t":0.97},{"v":-0.78,"t":0.963},{"v":-0.55,"t":0.97},{"v":-0.2,"t":0.985},{"v":0.5,"t":0.99},{"v":1.2,"t":0.988},{"v":1.7,"t":0.98},{"v":1.95,"t":0.976},{"v":2.2,"t":0.98},{"v":2.8,"t":0.989},{"v":3.5,"t":0.991},{"v":4.0,"t":0.992},{"v":4.5,"t":0.989},{"v":5.0,"t":0.985},{"v":5.5,"t":0.985},{"v":6.0,"t":0.989},{"v":6.69,"t":0.992},{"v":7.4,"t":0.997},{"v":8.15,"t":0.9995}],
"p3": [{"v":-15.69,"t":1.007},{"v":-15.62,"t":1.001},{"v":-15.57,"t":1.005},{"v":-15.52,"t":1.004},{"v":-15.45,"t":0.998},{"v":-15.4,"t":1.002},{"v":-15.32,"t":1.006},{"v":-15.25,"t":0.996},{"v":-15.2,"t":1.0},{"v":-15.15,"t":1.003},{"v":-15.08,"t":0.993},{"v":-15.03,"t":1.002},{"v":-14.96,"t":0.998},{"v":-14.89,"t":0.996},{"v":-14.84,"t":1.004},{"v":-14.77,"t":0.994},{"v":-14.72,"t":0.999},{"v":-14.64,"t":1.006},{"v":-14.6,"t":0.99},{"v":-14.55,"t":1.0},{"v":-14.47,"t":0.993},{"v":-14.4,"t":0.982},{"v":-14.35,"t":1.004},{"v":-14.28,"t":0.998},{"v":-14.23,"t":0.991},{"v":-14.16,"t":1.0},{"v":-14.11,"t":1.015},{"v":-14.04,"t":0.994},{"v":-13.96,"t":0.998},{"v":-13.91,"t":0.988},{"v":-13.87,"t":1.002},{"v":-13.79,"t":0.993},{"v":-13.74,"t":0.986},{"v":-13.67,"t":0.995},{"v":-13.62,"t":0.99},{"v":-13.55,"t":1.012},{"v":-13.5,"t":0.999},{"v":-13.43,"t":0.99},{"v":-13.38,"t":0.984},{"v":-13.31,"t":0.996},{"v":-13.26,"t":1.008},{"v":-13.18,"t":0.992},{"v":-13.14,"t":0.986},{"v":-13.06,"t":1.002},{"v":-13.01,"t":0.995},{"v":-12.94,"t":0.984},{"v":-12.89,"t":0.99},{"v":-12.82,"t":1.0},{"v":-12.77,"t":0.982},{"v":-12.7,"t":0.996},{"v":-12.65,"t":1.002},{"v":-12.58,"t":0.987},{"v":-12.53,"t":0.996},{"v":-12.45,"t":1.006},{"v":-12.41,"t":0.979},{"v":-12.33,"t":0.991},{"v":-12.28,"t":1.007},{"v":-12.21,"t":0.994},{"v":-12.16,"t":0.986},{"v":-12.09,"t":0.999},{"v":-12.04,"t":0.99},{"v":-11.97,"t":0.998},{"v":-11.92,"t":1.007},{"v":-11.85,"t":0.994},{"v":-11.8,"t":0.987},{"v":-11.72,"t":0.996},{"v":-11.68,"t":1.0},{"v":-11.6,"t":1.004},{"v":-11.55,"t":0.993},{"v":-11.48,"t":1.016},{"v":-11.43,"t":0.999},{"v":-11.36,"t":0.99},{"v":-11.31,"t":1.012},{"v":-11.24,"t":0.995},{"v":-11.19,"t":0.99},{"v":-11.12,"t":1.0},{"v":-11.07,"t":0.995},{"v":-10.99,"t":1.005},{"v":-10.95,"t":0.997},{"v":-10.87,"t":0.986},{"v":-10.82,"t":1.002},{"v":-10.75,"t":0.992},{"v":-10.7,"t":0.999},{"v":-10.63,"t":0.991},{"v":-10.58,"t":0.998},{"v":-10.51,"t":0.996},{"v":-10.46,"t":0.986},{"v":-10.39,"t":0.98},{"v":-10.34,"t":0.978},{"v":-10.27,"t":1.016},{"v":-10.22,"t":0.983},{"v":-10.14,"t":0.991},{"v":-10.1,"t":0.996},{"v":-10.02,"t":1.001},{"v":-9.97,"t":1.006},{"v":-9.9,"t":0.993},{"v":-9.85,"t":1.008},{"v":-9.78,"t":0.996},{"v":-9.73,"t":1.002},{"v":-9.66,"t":1.008},{"v":-9.61,"t":0.986},{"v":-9.54,"t":0.993},{"v":-9.49,"t":1.003},{"v":-9.41,"t":0.995},{"v":-9.37,"t":0.991},{"v":-9.29,"t":0.998},{"v":-9.24,"t":0.994},{"v":-9.17,"t":1.002},{"v":-9.12,"t":0.993},{"v":-9.05,"t":0.998},{"v":-9.0,"t":1.001},{"v":-8.93,"t":1.01},{"v":-8.88,"t":0.988},{"v":-8.81,"t":1.001},{"v":-8.76,"t":0.991},{"v":-8.68,"t":0.994},{"v":-8.64,"t":1.009},{"v":-8.56,"t":0.988},{"v":-8.51,"t":1.001},{"v":-8.44,"t":0.992},{"v":-8.39,"t":0.995},{"v":-8.32,"t":0.988},{"v":-8.27,"t":0.983},{"v":-8.2,"t":0.981},
{"v":-8.15,"t":0.977},{"v":-8.08,"t":0.969},{"v":-8.03,"t":0.964},{"v":-7.98,"t":0.969},{"v":-7.93,"t":0.947},{"v":-7.88,"t":0.941},{"v":-7.81,"t":0.944},{"v":-7.76,"t":0.934},{"v":-7.71,"t":0.928},{"v":-7.66,"t":0.931},{"v":-7.61,"t":0.925},{"v":-7.56,"t":0.936},{"v":-7.52,"t":0.938},{"v":-7.47,"t":0.953},{"v":-7.42,"t":0.957},{"v":-7.37,"t":0.952},{"v":-7.32,"t":0.946},{"v":-7.27,"t":0.949},{"v":-7.22,"t":0.949},{"v":-7.18,"t":0.961},{"v":-7.13,"t":0.953},{"v":-7.05,"t":0.975},{"v":-7.01,"t":0.966},{"v":-6.93,"t":0.966},{"v":-6.86,"t":0.975},{"v":-6.81,"t":0.978},{"v":-6.76,"t":0.985},{"v":-6.69,"t":0.973},{"v":-6.64,"t":0.975},{"v":-6.57,"t":0.977},{"v":-6.52,"t":0.972},{"v":-6.45,"t":0.985},{"v":-6.37,"t":0.982},{"v":-6.32,"t":0.965},{"v":-6.28,"t":0.976},{"v":-6.2,"t":0.988},{"v":-6.13,"t":0.985},{"v":-6.08,"t":0.977},{"v":-6.01,"t":0.986},{"v":-5.96,"t":0.988},{"v":-5.89,"t":0.99},{"v":-5.81,"t":0.987},{"v":-5.76,"t":0.986},{"v":-5.69,"t":0.988},{"v":-5.64,"t":0.985},{"v":-5.59,"t":0.986},{"v":-5.52,"t":0.982},{"v":-5.47,"t":0.99},{"v":-5.42,"t":0.986},{"v":-5.35,"t":0.995},{"v":-5.3,"t":0.987},{"v":-5.23,"t":0.984},{"v":-5.18,"t":0.982},{"v":-5.11,"t":0.988},{"v":-5.04,"t":0.984},{"v":-4.96,"t":0.979},{"v":-4.91,"t":0.969},{"v":-4.86,"t":0.971},{"v":-4.79,"t":0.965},{"v":-4.74,"t":0.957},{"v":-4.67,"t":0.96},{"v":-4.62,"t":0.947},{"v":-4.57,"t":0.954},{"v":-4.5,"t":0.966},{"v":-4.43,"t":0.96},{"v":-4.38,"t":0.958},{"v":-4.31,"t":0.946},{"v":-4.26,"t":0.941},{"v":-4.18,"t":0.942},{"v":-4.14,"t":0.937},{"v":-4.09,"t":0.961},{"v":-4.01,"t":0.957},{"v":-3.94,"t":0.963},{"v":-3.89,"t":0.958},{"v":-3.82,"t":0.955},{"v":-3.75,"t":0.967},{"v":-3.7,"t":0.963},{"v":-3.65,"t":0.963},{"v":-3.58,"t":0.953},{"v":-3.53,"t":0.95},{"v":-3.45,"t":0.957},{"v":-3.41,"t":0.953},{"v":-3.33,"t":0.945},{"v":-3.28,"t":0.963},{"v":-3.21,"t":0.94},{"v":-3.16,"t":0.957},{"v":-3.09,"t":0.962},{"v":-3.04,"t":0.95},{"v":-2.97,"t":0.953},{"v":-2.92,"t":0.941},{"v":-2.85,"t":0.941},{"v":-2.8,"t":0.935},{"v":-2.72,"t":0.947},{"v":-2.68,"t":0.938},{"v":-2.6,"t":0.933},{"v":-2.55,"t":0.927},{"v":-2.48,"t":0.929},{"v":-2.43,"t":0.928},{"v":-2.36,"t":0.953},{"v":-2.31,"t":0.959},{"v":-2.24,"t":0.954},{"v":-2.19,"t":0.969},{"v":-2.14,"t":0.964},{"v":-2.07,"t":0.971},{"v":-1.99,"t":0.976},{"v":-1.95,"t":0.962},{"v":-1.87,"t":0.959},{"v":-1.82,"t":0.945},{"v":-1.75,"t":0.941},{"v":-1.7,"t":0.941},{"v":-1.63,"t":0.935},{"v":-1.58,"t":0.938},{"v":-1.51,"t":0.935},{"v":-1.46,"t":0.942},{"v":-1.39,"t":0.938},{"v":-1.34,"t":0.955},{"v":-1.26,"t":0.954},{"v":-1.22,"t":0.947},{"v":-1.14,"t":0.945},{"v":-1.07,"t":0.929},{"v":-1.02,"t":0.939},{"v":-0.97,"t":0.944},{"v":-0.9,"t":0.949},{"v":-0.85,"t":0.953},{"v":-0.78,"t":0.959},{"v":-0.73,"t":0.944},{"v":-0.66,"t":0.95},{"v":-0.61,"t":0.949},{"v":-0.54,"t":0.945},{"v":-0.49,"t":0.953},{"v":-0.41,"t":0.949},{"v":-0.36,"t":0.942},{"v":-0.29,"t":0.95},{"v":-0.24,"t":0.942},{"v":-0.17,"t":0.963},{"v":-0.1,"t":0.965},{"v":-0.05,"t":0.955},{"v":0,"t":0.958},{"v":0.07,"t":0.95},{"v":0.12,"t":0.967},{"v":0.19,"t":0.961},{"v":0.24,"t":0.966},{"v":0.32,"t":0.975},{"v":0.36,"t":0.966},{"v":0.44,"t":0.974},{"v":0.49,"t":0.969},{"v":0.56,"t":0.966},{"v":0.61,"t":0.962},{"v":0.68,"t":0.973},{"v":0.73,"t":0.953},{"v":0.8,"t":0.961},{"v":0.85,"t":0.957},{"v":0.92,"t":0.963},{"v":0.97,"t":0.968},{"v":1.05,"t":0.962},{"v":1.09,"t":0.953},{"v":1.17,"t":0.975},{"v":1.22,"t":0.968},{"v":1.29,"t":0.977},{"v":1.34,"t":0.953},{"v":1.41,"t":0.963},{"v":1.46,"t":0.942},{"v":1.53,"t":0.936},{"v":1.58,"t":0.93},{"v":1.65,"t":0.934},{"v":1.7,"t":0.937},{"v":1.78,"t":0.933},{"v":1.82,"t":0.929},{"v":1.9,"t":0.942},{"v":1.95,"t":0.929},{"v":2.02,"t":0.92},{"v":2.07,"t":0.933},{"v":2.14,"t":0.932},{"v":2.19,"t":0.938},{"v":2.26,"t":0.946},{"v":2.31,"t":0.942},{"v":2.38,"t":0.968},{"v":2.43,"t":0.969},{"v":2.51,"t":0.964},{"v":2.55,"t":0.967},{"v":2.63,"t":0.959},{"v":2.68,"t":0.968},{"v":2.75,"t":0.955},{"v":2.8,"t":0.953},{"v":2.87,"t":0.947},{"v":2.92,"t":0.942},{"v":2.99,"t":0.938},{"v":3.04,"t":0.942},{"v":3.11,"t":0.935},{"v":3.16,"t":0.941},{"v":3.24,"t":0.945},{"v":3.28,"t":0.922},{"v":3.36,"t":0.935},{"v":3.41,"t":0.937},{"v":3.48,"t":0.944},{"v":3.53,"t":0.972},{"v":3.6,"t":0.964},{"v":3.65,"t":0.975},{"v":3.72,"t":0.963},{"v":3.77,"t":0.969},{"v":3.84,"t":0.974},{"v":3.89,"t":0.976},{"v":3.97,"t":0.967},{"v":4.01,"t":0.976},{"v":4.09,"t":0.98},{"v":4.14,"t":0.975},{"v":4.21,"t":0.97},{"v":4.26,"t":0.966},{"v":4.33,"t":0.961},{"v":4.38,"t":0.972},{"v":4.45,"t":0.97},{"v":4.5,"t":0.947},{"v":4.57,"t":0.961},{"v":4.62,"t":0.949},{"v":4.69,"t":0.959},{"v":4.74,"t":0.957},{"v":4.82,"t":0.947},{"v":4.87,"t":0.936},{"v":4.94,"t":0.926},{"v":4.99,"t":0.931},{"v":5.06,"t":0.929},{"v":5.11,"t":0.931},{"v":5.18,"t":0.95},{"v":5.23,"t":0.953},{"v":5.3,"t":0.952},{"v":5.35,"t":0.947},{"v":5.42,"t":0.95},{"v":5.47,"t":0.957},{"v":5.55,"t":0.947},{"v":5.59,"t":0.99},{"v":5.67,"t":0.977},{"v":5.72,"t":0.986},{"v":5.79,"t":0.986},{"v":5.84,"t":0.978},{"v":5.91,"t":0.995},{"v":5.96,"t":0.982},{"v":6.03,"t":0.995},{"v":6.08,"t":0.986},{"v":6.15,"t":0.989},{"v":6.2,"t":0.983},{"v":6.28,"t":0.98},{"v":6.32,"t":0.991},{"v":6.4,"t":0.988},{"v":6.45,"t":0.993},{"v":6.52,"t":0.981},{"v":6.57,"t":0.972},{"v":6.64,"t":0.976},{"v":6.69,"t":1.003},{"v":6.76,"t":0.986},{"v":6.81,"t":0.99},{"v":6.88,"t":0.995},{"v":6.93,"t":0.991},{"v":7.01,"t":0.987},{"v":7.05,"t":0.98},{"v":7.13,"t":0.986},{"v":7.18,"t":0.991},{"v":7.25,"t":1.002},{"v":7.3,"t":0.995},{"v":7.37,"t":1.005},{"v":7.42,"t":0.974},{"v":7.49,"t":0.97},{"v":7.54,"t":0.967},{"v":7.61,"t":0.969},{"v":7.66,"t":0.959},{"v":7.74,"t":0.96},{"v":7.78,"t":0.963},{"v":7.86,"t":0.955},{"v":7.93,"t":0.953},{"v":7.98,"t":0.945},{"v":8.03,"t":0.941},{"v":8.1,"t":0.934},{"v":8.15,"t":0.93},{"v":8.22,"t":0.928},{"v":8.27,"t":0.926},{"v":8.34,"t":0.933},{"v":8.39,"t":0.925},{"v":8.47,"t":0.92},{"v":8.51,"t":0.933},{"v":8.56,"t":0.928},{"v":8.64,"t":0.941},{"v":8.71,"t":0.938},{"v":8.76,"t":0.943},{"v":8.83,"t":0.947},{"v":8.88,"t":0.959},{"v":8.95,"t":0.965},{"v":9.0,"t":0.969},{"v":9.07,"t":0.974},{"v":9.12,"t":0.977},{"v":9.19,"t":0.982},{"v":9.24,"t":0.986},
{"v":9.32,"t":0.982},{"v":9.37,"t":0.995},{"v":9.44,"t":0.99},{"v":9.49,"t":0.996},{"v":9.56,"t":0.988},{"v":9.61,"t":0.979},{"v":9.68,"t":1.01},{"v":9.73,"t":1.001},{"v":9.8,"t":1.013},{"v":9.85,"t":0.988},{"v":9.92,"t":0.994},{"v":9.97,"t":0.998},{"v":10.05,"t":0.991},{"v":10.09,"t":1.004},{"v":10.17,"t":0.999},{"v":10.22,"t":0.984},{"v":10.29,"t":0.993},{"v":10.34,"t":1.003},{"v":10.41,"t":0.988},{"v":10.46,"t":0.996},{"v":10.53,"t":1.0},{"v":10.58,"t":1.009},{"v":10.65,"t":0.991},{"v":10.7,"t":1.004},{"v":10.78,"t":0.998},{"v":10.82,"t":0.994},{"v":10.9,"t":1.008},{"v":10.95,"t":0.984},{"v":11.02,"t":1.0},{"v":11.07,"t":0.99},{"v":11.14,"t":0.98},{"v":11.19,"t":0.995},{"v":11.26,"t":1.004},{"v":11.31,"t":1.01},{"v":11.38,"t":0.993},{"v":11.43,"t":1.0},{"v":11.51,"t":1.008},{"v":11.55,"t":0.99},{"v":11.63,"t":0.998},{"v":11.68,"t":1.003},{"v":11.75,"t":0.987},{"v":11.8,"t":0.996},{"v":11.87,"t":1.005},{"v":11.92,"t":1.0},{"v":11.99,"t":0.984},{"v":12.04,"t":0.994},{"v":12.11,"t":1.003},{"v":12.16,"t":0.988},{"v":12.24,"t":0.982},{"v":12.28,"t":0.997},{"v":12.36,"t":1.007},{"v":12.41,"t":0.991},{"v":12.48,"t":0.983},{"v":12.53,"t":1.002},{"v":12.6,"t":1.011},{"v":12.65,"t":0.995},{"v":12.72,"t":0.988},{"v":12.77,"t":0.992},{"v":12.84,"t":1.001},{"v":12.89,"t":0.986},{"v":12.97,"t":0.992},{"v":13.01,"t":1.008},{"v":13.09,"t":1.0},{"v":13.14,"t":1.01},{"v":13.21,"t":0.994},{"v":13.26,"t":0.991},{"v":13.33,"t":1.002},{"v":13.38,"t":1.005},{"v":13.45,"t":0.996},{"v":13.5,"t":0.991},{"v":13.57,"t":1.001},{"v":13.62,"t":0.997},{"v":13.7,"t":1.008},{"v":13.74,"t":1.003},{"v":13.82,"t":0.993},{"v":13.87,"t":0.999},{"v":13.94,"t":0.996},{"v":13.99,"t":1.004},{"v":14.06,"t":0.988},{"v":14.11,"t":0.983},{"v":14.18,"t":1.001},{"v":14.23,"t":0.994},{"v":14.3,"t":1.003},{"v":14.35,"t":0.997},{"v":14.42,"t":0.991},{"v":14.47,"t":1.007},{"v":14.55,"t":0.999},{"v":14.59,"t":0.994},{"v":14.67,"t":1.0},{"v":14.72,"t":1.003},{"v":14.79,"t":0.993},{"v":14.84,"t":0.997},{"v":14.91,"t":1.007},{"v":14.96,"t":1.011},{"v":15.03,"t":1.002},{"v":15.08,"t":0.995},{"v":15.15,"t":0.999},{"v":15.2,"t":0.988},{"v":15.28,"t":0.998},{"v":15.32,"t":1.002},{"v":15.4,"t":1.009},{"v":15.45,"t":0.994},{"v":15.52,"t":1.0},{"v":15.57,"t":1.004},{"v":15.64,"t":1.013},{"v":15.69,"t":1.001},{"v":15.76,"t":1.007}],
"f3": [{"v":-15.9,"t":0.9995},{"v":-13,"t":0.998},{"v":-11,"t":0.996},{"v":-9.5,"t":0.993},{"v":-8.8,"t":0.985},{"v":-8.4,"t":0.975},{"v":-8.1,"t":0.958},{"v":-7.85,"t":0.94},{"v":-7.6,"t":0.928},{"v":-7.4,"t":0.935},{"v":-7.15,"t":0.952},{"v":-6.85,"t":0.97},{"v":-6.5,"t":0.982},{"v":-6.2,"t":0.985},{"v":-5.9,"t":0.983},{"v":-5.5,"t":0.976},{"v":-5.1,"t":0.968},{"v":-4.7,"t":0.957},{"v":-4.4,"t":0.947},{"v":-4.2,"t":0.944},{"v":-4.0,"t":0.947},{"v":-3.7,"t":0.957},{"v":-3.4,"t":0.96},{"v":-3.1,"t":0.95},{"v":-2.85,"t":0.938},{"v":-2.68,"t":0.933},{"v":-2.5,"t":0.945},{"v":-2.3,"t":0.962},{"v":-2.15,"t":0.966},{"v":-2.0,"t":0.96},{"v":-1.8,"t":0.948},{"v":-1.6,"t":0.944},{"v":-1.4,"t":0.951},{"v":-1.15,"t":0.967},{"v":-0.97,"t":0.974},{"v":-0.7,"t":0.97},{"v":-0.4,"t":0.964},{"v":-0.12,"t":0.967},{"v":0.2,"t":0.975},{"v":0.5,"t":0.977},{"v":0.8,"t":0.971},{"v":1.1,"t":0.962},{"v":1.4,"t":0.954},{"v":1.7,"t":0.946},{"v":1.9,"t":0.938},{"v":2.07,"t":0.934},{"v":2.25,"t":0.94},{"v":2.5,"t":0.952},{"v":2.8,"t":0.957},{"v":3.05,"t":0.945},{"v":3.28,"t":0.933},{"v":3.5,"t":0.942},{"v":3.75,"t":0.962},{"v":4.01,"t":0.975},{"v":4.3,"t":0.972},{"v":4.6,"t":0.958},{"v":4.9,"t":0.945},{"v":5.11,"t":0.942},{"v":5.35,"t":0.948},{"v":5.7,"t":0.968},{"v":6.1,"t":0.983},{"v":6.45,"t":0.987},{"v":6.9,"t":0.985},{"v":7.4,"t":0.978},{"v":7.8,"t":0.962},{"v":8.1,"t":0.942},{"v":8.3,"t":0.928},{"v":8.4,"t":0.924},{"v":8.55,"t":0.93},{"v":8.75,"t":0.948},{"v":9.0,"t":0.965},{"v":9.25,"t":0.979},{"v":9.7,"t":0.99},{"v":10.7,"t":0.996},{"v":12,"t":0.998},{"v":15.9,"t":0.9995}],
"a3": [{"v":-6.81,"t":0.9993},{"v":-6.0,"t":0.998},{"v":-5.2,"t":0.993},{"v":-4.75,"t":0.98},{"v":-4.45,"t":0.962},{"v":-4.25,"t":0.95},{"v":-4.1,"t":0.946},{"v":-3.95,"t":0.95},{"v":-3.75,"t":0.962},{"v":-3.45,"t":0.978},{"v":-3.0,"t":0.988},{"v":-2.3,"t":0.991},{"v":-1.9,"t":0.983},{"v":-1.65,"t":0.968},{"v":-1.5,"t":0.96},{"v":-1.35,"t":0.963},{"v":-1.1,"t":0.972},{"v":-0.85,"t":0.976},{"v":-0.6,"t":0.971},{"v":-0.41,"t":0.969},{"v":-0.2,"t":0.975},{"v":0.1,"t":0.986},{"v":0.49,"t":0.989},{"v":0.85,"t":0.983},{"v":1.1,"t":0.972},{"v":1.29,"t":0.969},{"v":1.45,"t":0.975},{"v":1.65,"t":0.972},{"v":1.9,"t":0.962},{"v":2.07,"t":0.955},{"v":2.25,"t":0.96},{"v":2.5,"t":0.975},{"v":2.9,"t":0.988},{"v":3.24,"t":0.991},{"v":3.8,"t":0.985},{"v":4.3,"t":0.972},{"v":4.7,"t":0.955},{"v":4.95,"t":0.945},{"v":5.11,"t":0.943},{"v":5.3,"t":0.947},{"v":5.6,"t":0.962},{"v":6.0,"t":0.978},{"v":6.5,"t":0.991},{"v":7.0,"t":0.997},{"v":7.42,"t":0.9993}],
"p4": [{"v":-15.62,"t":1.002},{"v":-15.57,"t":0.995},{"v":-15.52,"t":1.0},{"v":-15.45,"t":0.999},{"v":-15.4,"t":1.008},{"v":-15.32,"t":0.998},{"v":-15.25,"t":1.001},{"v":-15.2,"t":0.996},{"v":-15.13,"t":0.999},{"v":-15.08,"t":1.002},{"v":-15.01,"t":0.997},{"v":-14.96,"t":1.0},{"v":-14.89,"t":0.998},{"v":-14.84,"t":1.001},{"v":-14.77,"t":0.993},{"v":-14.72,"t":0.998},{"v":-14.64,"t":1.002},{"v":-14.6,"t":0.999},{"v":-14.52,"t":1.007},{"v":-14.47,"t":0.996},{"v":-14.4,"t":1.0},{"v":-14.35,"t":0.998},{"v":-14.28,"t":0.999},{"v":-14.23,"t":1.002},{"v":-14.16,"t":0.996},{"v":-14.11,"t":0.998},{"v":-14.04,"t":0.994},{"v":-13.99,"t":1.004},{"v":-13.91,"t":1.0},{"v":-13.87,"t":0.998},{"v":-13.79,"t":0.995},{"v":-13.74,"t":1.001},{"v":-13.67,"t":0.998},{"v":-13.62,"t":1.004},{"v":-13.55,"t":0.996},{"v":-13.5,"t":0.999},{"v":-13.43,"t":1.002},{"v":-13.38,"t":0.998},{"v":-13.31,"t":1.0},{"v":-13.26,"t":0.996},{"v":-13.18,"t":0.999},{"v":-13.14,"t":1.002},{"v":-13.06,"t":0.997},{"v":-13.01,"t":1.0},{"v":-12.94,"t":1.005},{"v":-12.89,"t":0.998},{"v":-12.82,"t":1.001},{"v":-12.77,"t":0.995},{"v":-12.7,"t":0.998},{"v":-12.65,"t":1.0},{"v":-12.58,"t":0.996},{"v":-12.53,"t":1.002},{"v":-12.45,"t":0.998},{"v":-12.41,"t":0.999},{"v":-12.33,"t":1.002},{"v":-12.28,"t":0.997},{"v":-12.21,"t":1.001},{"v":-12.16,"t":0.999},{"v":-12.09,"t":1.005},{"v":-12.04,"t":1.0},{"v":-11.97,"t":0.995},{"v":-11.92,"t":0.998},{"v":-11.85,"t":1.001},{"v":-11.8,"t":0.993},{"v":-11.72,"t":0.998},{"v":-11.68,"t":1.0},{"v":-11.6,"t":0.993},{"v":-11.55,"t":0.998},{"v":-11.48,"t":1.002},{"v":-11.43,"t":0.997},{"v":-11.36,"t":1.001},{"v":-11.31,"t":0.995},{"v":-11.24,"t":0.998},{"v":-11.19,"t":1.0},{"v":-11.12,"t":0.994},{"v":-11.07,"t":1.004},{"v":-10.99,"t":0.998},{"v":-10.95,"t":1.0},{"v":-10.87,"t":0.995},{"v":-10.82,"t":0.998},{"v":-10.75,"t":1.006},{"v":-10.7,"t":1.0},{"v":-10.63,"t":0.997},{"v":-10.58,"t":1.001},{"v":-10.51,"t":0.994},{"v":-10.46,"t":0.998},{"v":-10.39,"t":1.002},{"v":-10.34,"t":0.996},{"v":-10.27,"t":0.999},{"v":-10.22,"t":0.998},{"v":-10.14,"t":1.001},{"v":-10.1,"t":0.995},{"v":-10.02,"t":0.998},{"v":-9.97,"t":0.994},{"v":-9.9,"t":1.001},{"v":-9.85,"t":0.992},{"v":-9.78,"t":0.998},{"v":-9.73,"t":0.997},{"v":-9.66,"t":1.001},{"v":-9.61,"t":0.995},{"v":-9.54,"t":0.998},{"v":-9.49,"t":1.0},{"v":-9.41,"t":0.998},{"v":-9.37,"t":0.995},{"v":-9.29,"t":0.998},{"v":-9.24,"t":1.001},{"v":-9.17,"t":0.996},{"v":-9.12,"t":0.999},{"v":-9.05,"t":0.995},{"v":-9.0,"t":0.998},{"v":-8.93,"t":1.0},{"v":-8.88,"t":0.996},{"v":-8.81,"t":1.002},{"v":-8.76,"t":0.995},{"v":-8.68,"t":0.998},{"v":-8.64,"t":0.995},{"v":-8.56,"t":0.996},{"v":-8.51,"t":0.997},{"v":-8.44,"t":0.998},{"v":-8.39,"t":0.995},{"v":-8.32,"t":0.996},{"v":-8.27,"t":0.995},
{"v":-8.22,"t":0.993},{"v":-8.17,"t":0.991},{"v":-8.12,"t":0.988},{"v":-8.08,"t":0.984},{"v":-8.03,"t":0.983},{"v":-7.98,"t":0.987},{"v":-7.93,"t":0.981},{"v":-7.88,"t":0.978},{"v":-7.83,"t":0.983},{"v":-7.78,"t":0.98},{"v":-7.71,"t":0.98},{"v":-7.66,"t":0.981},{"v":-7.59,"t":0.978},{"v":-7.54,"t":0.98},{"v":-7.47,"t":0.979},{"v":-7.42,"t":0.98},{"v":-7.35,"t":0.98},{"v":-7.3,"t":0.983},{"v":-7.25,"t":0.98},{"v":-7.18,"t":0.981},{"v":-7.1,"t":0.985},{"v":-7.05,"t":0.983},{"v":-7.01,"t":0.987},{"v":-6.93,"t":0.99},{"v":-6.86,"t":0.988},{"v":-6.81,"t":0.991},{"v":-6.76,"t":0.987},{"v":-6.69,"t":0.987},{"v":-6.62,"t":0.991},{"v":-6.57,"t":0.989},{"v":-6.52,"t":0.992},{"v":-6.45,"t":0.994},{"v":-6.37,"t":0.991},{"v":-6.32,"t":0.992},{"v":-6.28,"t":0.989},{"v":-6.2,"t":0.991},{"v":-6.13,"t":0.993},{"v":-6.08,"t":0.988},{"v":-6.01,"t":0.99},{"v":-5.96,"t":0.992},{"v":-5.89,"t":0.989},{"v":-5.84,"t":0.992},{"v":-5.76,"t":0.99},{"v":-5.72,"t":0.987},{"v":-5.64,"t":0.991},{"v":-5.59,"t":0.992},{"v":-5.52,"t":0.994},{"v":-5.47,"t":0.99},{"v":-5.4,"t":0.992},{"v":-5.35,"t":0.988},{"v":-5.28,"t":0.991},{"v":-5.23,"t":0.988},{"v":-5.16,"t":0.991},{"v":-5.11,"t":0.989},{"v":-5.06,"t":0.994},{"v":-4.99,"t":0.992},{"v":-4.91,"t":0.999},{"v":-4.86,"t":0.991},{"v":-4.79,"t":0.99},{"v":-4.74,"t":0.987},{"v":-4.67,"t":0.989},{"v":-4.62,"t":0.984},{"v":-4.57,"t":0.985},{"v":-4.5,"t":0.985},{"v":-4.43,"t":0.981},{"v":-4.38,"t":0.98},{"v":-4.31,"t":0.98},{"v":-4.26,"t":0.978},{"v":-4.18,"t":0.98},{"v":-4.14,"t":0.974},{"v":-4.09,"t":0.974},{"v":-4.01,"t":0.978},{"v":-3.94,"t":0.976},{"v":-3.89,"t":0.977},{"v":-3.84,"t":0.976},{"v":-3.77,"t":0.977},{"v":-3.7,"t":0.974},{"v":-3.65,"t":0.978},{"v":-3.58,"t":0.974},{"v":-3.53,"t":0.981},{"v":-3.45,"t":0.977},{"v":-3.41,"t":0.98},{"v":-3.33,"t":0.977},{"v":-3.28,"t":0.973},{"v":-3.21,"t":0.968},{"v":-3.16,"t":0.964},{"v":-3.11,"t":0.965},{"v":-3.06,"t":0.961},{"v":-3.02,"t":0.958},{"v":-2.97,"t":0.955},{"v":-2.92,"t":0.954},{"v":-2.87,"t":0.957},{"v":-2.8,"t":0.953},{"v":-2.75,"t":0.953},{"v":-2.68,"t":0.951},{"v":-2.63,"t":0.953},{"v":-2.55,"t":0.957},{"v":-2.48,"t":0.959},{"v":-2.43,"t":0.962},{"v":-2.38,"t":0.966},{"v":-2.31,"t":0.964},{"v":-2.24,"t":0.966},{"v":-2.19,"t":0.971},{"v":-2.14,"t":0.972},{"v":-2.07,"t":0.97},{"v":-1.99,"t":0.972},{"v":-1.95,"t":0.966},{"v":-1.87,"t":0.965},{"v":-1.82,"t":0.968},{"v":-1.75,"t":0.959},{"v":-1.7,"t":0.96},{"v":-1.65,"t":0.955},{"v":-1.58,"t":0.957},{"v":-1.51,"t":0.956},{"v":-1.46,"t":0.953},{"v":-1.41,"t":0.957},{"v":-1.34,"t":0.948},{"v":-1.26,"t":0.954},{"v":-1.22,"t":0.959},{"v":-1.17,"t":0.963},{"v":-1.09,"t":0.968},{"v":-1.02,"t":0.965},{"v":-0.97,"t":0.968},{"v":-0.9,"t":0.969},{"v":-0.85,"t":0.963},{"v":-0.78,"t":0.97},{"v":-0.73,"t":0.975},{"v":-0.68,"t":0.966},{"v":-0.61,"t":0.965},{"v":-0.54,"t":0.968},{"v":-0.49,"t":0.966},{"v":-0.41,"t":0.964},{"v":-0.36,"t":0.97},{"v":-0.29,"t":0.97},{"v":-0.24,"t":0.966},{"v":-0.17,"t":0.966},{"v":-0.12,"t":0.962},{"v":-0.05,"t":0.969},{"v":0,"t":0.965},{"v":0.05,"t":0.968},{"v":0.12,"t":0.972},{"v":0.19,"t":0.97},{"v":0.24,"t":0.974},{"v":0.29,"t":0.979},{"v":0.36,"t":0.977},{"v":0.44,"t":0.969},{"v":0.49,"t":0.976},{"v":0.56,"t":0.974},{"v":0.61,"t":0.966},{"v":0.68,"t":0.967},{"v":0.73,"t":0.969},{"v":0.78,"t":0.968},{"v":0.85,"t":0.971},{"v":0.92,"t":0.969},{"v":0.97,"t":0.97},{"v":1.02,"t":0.976},{"v":1.09,"t":0.975},{"v":1.17,"t":0.972},{"v":1.22,"t":0.974},{"v":1.26,"t":0.969},{"v":1.34,"t":0.974},{"v":1.41,"t":0.964},{"v":1.46,"t":0.962},{"v":1.51,"t":0.964},{"v":1.58,"t":0.959},{"v":1.65,"t":0.955},{"v":1.7,"t":0.952},{"v":1.75,"t":0.951},{"v":1.82,"t":0.954},{"v":1.9,"t":0.951},{"v":1.95,"t":0.95},{"v":2.02,"t":0.962},{"v":2.07,"t":0.964},{"v":2.14,"t":0.968},{"v":2.19,"t":0.972},{"v":2.24,"t":0.973},{"v":2.31,"t":0.969},{"v":2.38,"t":0.967},{"v":2.43,"t":0.963},{"v":2.51,"t":0.959},{"v":2.55,"t":0.969},{"v":2.63,"t":0.973},{"v":2.68,"t":0.972},{"v":2.72,"t":0.966},{"v":2.8,"t":0.961},{"v":2.87,"t":0.959},{"v":2.92,"t":0.962},{"v":2.99,"t":0.955},{"v":3.04,"t":0.959},{"v":3.11,"t":0.949},{"v":3.16,"t":0.949},{"v":3.21,"t":0.953},{"v":3.28,"t":0.949},{"v":3.36,"t":0.951},{"v":3.41,"t":0.954},{"v":3.45,"t":0.961},{"v":3.53,"t":0.963},{"v":3.6,"t":0.968},{"v":3.65,"t":0.97},{"v":3.7,"t":0.975},{"v":3.77,"t":0.978},{"v":3.84,"t":0.98},{"v":3.89,"t":0.983},{"v":3.94,"t":0.983},{"v":4.01,"t":0.98},{"v":4.09,"t":0.981},{"v":4.14,"t":0.979},{"v":4.21,"t":0.976},{"v":4.26,"t":0.978},{"v":4.33,"t":0.979},{"v":4.38,"t":0.98},{"v":4.45,"t":0.975},{"v":4.5,"t":0.974},{"v":4.57,"t":0.977},{"v":4.62,"t":0.98},{"v":4.69,"t":0.982},{"v":4.74,"t":0.983},{"v":4.82,"t":0.98},{"v":4.87,"t":0.978},{"v":4.94,"t":0.981},{"v":4.99,"t":0.986},{"v":5.06,"t":0.987},{"v":5.11,"t":0.984},{"v":5.18,"t":0.987},{"v":5.23,"t":0.99},{"v":5.3,"t":0.987},{"v":5.35,"t":0.992},{"v":5.42,"t":0.99},{"v":5.47,"t":0.991},{"v":5.55,"t":0.988},{"v":5.59,"t":0.987},{"v":5.67,"t":0.991},{"v":5.72,"t":0.991},{"v":5.79,"t":0.994},{"v":5.84,"t":0.991},{"v":5.91,"t":0.994},{"v":5.96,"t":0.989},{"v":6.03,"t":0.994},{"v":6.08,"t":0.991},{"v":6.15,"t":0.992},{"v":6.2,"t":0.994},{"v":6.28,"t":0.988},{"v":6.32,"t":0.992},{"v":6.4,"t":0.989},{"v":6.45,"t":0.995},{"v":6.52,"t":0.987},{"v":6.57,"t":0.991},{"v":6.64,"t":0.994},{"v":6.69,"t":0.993},{"v":6.76,"t":0.987},{"v":6.81,"t":0.991},{"v":6.88,"t":0.993},{"v":6.93,"t":0.995},{"v":7.01,"t":0.992},{"v":7.05,"t":0.991},{"v":7.13,"t":0.986},{"v":7.18,"t":0.99},{"v":7.25,"t":0.99},{"v":7.3,"t":0.987},{"v":7.37,"t":0.994},{"v":7.42,"t":0.986},{"v":7.49,"t":0.987},{"v":7.54,"t":0.983},{"v":7.61,"t":0.984},{"v":7.66,"t":0.983},{"v":7.74,"t":0.984},{"v":7.78,"t":0.983},{"v":7.86,"t":0.981},{"v":7.91,"t":0.982},{"v":7.98,"t":0.981},{"v":8.03,"t":0.981},{"v":8.08,"t":0.98},{"v":8.15,"t":0.981},{"v":8.22,"t":0.98},{"v":8.27,"t":0.981},{"v":8.34,"t":0.979},{"v":8.39,"t":0.98},{"v":8.47,"t":0.981},{"v":8.51,"t":0.983},{"v":8.56,"t":0.979},{"v":8.64,"t":0.981},{"v":8.71,"t":0.983},{"v":8.76,"t":0.983},{"v":8.83,"t":0.987},{"v":8.88,"t":0.985},{"v":8.95,"t":0.989},{"v":9.0,"t":0.991},{"v":9.07,"t":0.991},{"v":9.12,"t":0.994},{"v":9.2,"t":0.996},{"v":9.24,"t":0.996},
{"v":9.32,"t":0.995},{"v":9.37,"t":0.997},{"v":9.44,"t":0.998},{"v":9.49,"t":0.998},{"v":9.56,"t":0.995},{"v":9.61,"t":1.001},{"v":9.68,"t":0.998},{"v":9.73,"t":0.994},{"v":9.8,"t":0.999},{"v":9.85,"t":1.001},{"v":9.92,"t":0.996},{"v":9.97,"t":1.002},{"v":10.05,"t":0.998},{"v":10.09,"t":1.0},{"v":10.17,"t":1.002},{"v":10.22,"t":0.994},{"v":10.29,"t":0.999},{"v":10.34,"t":1.001},{"v":10.41,"t":0.997},{"v":10.46,"t":1.003},{"v":10.53,"t":0.998},{"v":10.58,"t":0.997},{"v":10.65,"t":1.0},{"v":10.7,"t":0.992},{"v":10.78,"t":0.999},{"v":10.82,"t":1.002},{"v":10.9,"t":0.998},{"v":10.95,"t":1.003},{"v":11.02,"t":0.999},{"v":11.07,"t":0.996},{"v":11.14,"t":1.001},{"v":11.19,"t":0.998},{"v":11.26,"t":1.003},{"v":11.31,"t":0.999},{"v":11.38,"t":1.008},{"v":11.43,"t":1.002},{"v":11.51,"t":0.995},{"v":11.55,"t":0.999},{"v":11.63,"t":1.001},{"v":11.68,"t":0.997},{"v":11.75,"t":1.0},{"v":11.8,"t":0.995},{"v":11.87,"t":0.998},{"v":11.92,"t":1.001},{"v":11.99,"t":0.996},{"v":12.04,"t":0.999},{"v":12.11,"t":1.002},{"v":12.16,"t":0.998},{"v":12.24,"t":1.0},{"v":12.28,"t":1.003},{"v":12.36,"t":0.995},{"v":12.41,"t":0.998},{"v":12.48,"t":1.001},{"v":12.53,"t":0.997},{"v":12.6,"t":1.0},{"v":12.65,"t":1.002},{"v":12.72,"t":0.996},{"v":12.77,"t":0.998},{"v":12.84,"t":1.0},{"v":12.89,"t":1.006},{"v":12.97,"t":0.998},{"v":13.01,"t":1.001},{"v":13.09,"t":0.996},{"v":13.14,"t":1.002},{"v":13.21,"t":0.999},{"v":13.26,"t":1.004},{"v":13.33,"t":0.998},{"v":13.38,"t":1.001},{"v":13.45,"t":0.997},{"v":13.5,"t":1.0},{"v":13.57,"t":1.003},{"v":13.62,"t":0.998},{"v":13.7,"t":1.002},{"v":13.74,"t":0.996},{"v":13.82,"t":1.0},{"v":13.87,"t":1.002},{"v":13.94,"t":0.998},{"v":13.99,"t":1.006},{"v":14.06,"t":1.0},{"v":14.11,"t":0.997},{"v":14.18,"t":1.002},{"v":14.23,"t":1.004},{"v":14.3,"t":0.999},{"v":14.35,"t":1.001},{"v":14.42,"t":1.006},{"v":14.47,"t":0.997},{"v":14.55,"t":1.001},{"v":14.59,"t":1.003},{"v":14.67,"t":0.999},{"v":14.72,"t":1.002},{"v":14.79,"t":0.998},{"v":14.84,"t":1.001},{"v":14.91,"t":1.003},{"v":14.96,"t":1.0},{"v":15.03,"t":0.997},{"v":15.08,"t":1.001},{"v":15.15,"t":0.999},{"v":15.2,"t":1.002},{"v":15.28,"t":1.0},{"v":15.32,"t":1.002},{"v":15.4,"t":0.998},{"v":15.45,"t":1.001},{"v":15.52,"t":1.006},{"v":15.57,"t":1.003},{"v":15.64,"t":0.999},{"v":15.69,"t":1.002},{"v":15.76,"t":1.0}],
"f4": [{"v":-15.9,"t":0.9995},{"v":-13,"t":0.999},{"v":-10.5,"t":0.998},{"v":-9.2,"t":0.996},{"v":-8.6,"t":0.993},{"v":-8.2,"t":0.988},{"v":-7.9,"t":0.982},{"v":-7.65,"t":0.978},{"v":-7.41,"t":0.9767},{"v":-7.15,"t":0.978},{"v":-6.85,"t":0.983},{"v":-6.4,"t":0.989},{"v":-5.9,"t":0.992},{"v":-5.5,"t":0.992},{"v":-5.1,"t":0.99},{"v":-4.7,"t":0.985},{"v":-4.3,"t":0.98},{"v":-4.0,"t":0.979},{"v":-3.7,"t":0.978},{"v":-3.4,"t":0.975},{"v":-3.15,"t":0.967},{"v":-2.9,"t":0.955},{"v":-2.63,"t":0.948},{"v":-2.4,"t":0.957},{"v":-2.15,"t":0.97},{"v":-1.95,"t":0.972},{"v":-1.7,"t":0.966},{"v":-1.46,"t":0.96},{"v":-1.25,"t":0.966},{"v":-0.95,"t":0.976},{"v":-0.73,"t":0.979},{"v":-0.45,"t":0.975},{"v":-0.12,"t":0.9728},{"v":0.2,"t":0.977},{"v":0.45,"t":0.9735},{"v":0.85,"t":0.976},{"v":1.22,"t":0.979},{"v":1.5,"t":0.973},{"v":1.75,"t":0.964},{"v":1.95,"t":0.961},{"v":2.15,"t":0.965},{"v":2.42,"t":0.969},{"v":2.7,"t":0.965},{"v":3.0,"t":0.954},{"v":3.28,"t":0.948},{"v":3.5,"t":0.956},{"v":3.75,"t":0.97},{"v":4.01,"t":0.9755},{"v":4.3,"t":0.975},{"v":4.6,"t":0.974},{"v":4.9,"t":0.976},{"v":5.3,"t":0.982},{"v":5.8,"t":0.988},{"v":6.3,"t":0.992},{"v":6.8,"t":0.992},{"v":7.3,"t":0.99},{"v":7.7,"t":0.986},{"v":8.0,"t":0.981},{"v":8.2,"t":0.978},{"v":8.4,"t":0.9767},{"v":8.6,"t":0.978},{"v":8.9,"t":0.983},{"v":9.2,"t":0.988},{"v":9.49,"t":0.993},{"v":10.2,"t":0.997},{"v":11.5,"t":0.9985},{"v":15.9,"t":0.9995}],
"a4": [{"v":-8.1,"t":0.9995},{"v":-7.95,"t":0.998},{"v":-7.85,"t":0.996},{"v":-7.78,"t":0.995},{"v":-7.7,"t":0.996},{"v":-7.55,"t":0.998},{"v":-7.2,"t":0.9993},{"v":-4.3,"t":0.999},{"v":-4.05,"t":0.998},{"v":-3.95,"t":0.9968},{"v":-3.8,"t":0.998},{"v":-3.5,"t":0.9993},{"v":-0.95,"t":0.999},{"v":-0.8,"t":0.998},{"v":-0.73,"t":0.9975},{"v":-0.65,"t":0.998},{"v":-0.5,"t":0.9993},{"v":1.35,"t":0.9993},{"v":1.5,"t":0.998},{"v":1.58,"t":0.9975},{"v":1.66,"t":0.998},{"v":1.8,"t":0.9993},{"v":4.5,"t":0.999},{"v":4.65,"t":0.998},{"v":4.75,"t":0.9968},{"v":4.85,"t":0.998},{"v":5.1,"t":0.9993},{"v":6.8,"t":0.999},{"v":7.0,"t":0.997},{"v":7.1,"t":0.9958},{"v":7.2,"t":0.997},{"v":7.3,"t":0.9985},{"v":7.42,"t":0.9993}],
"b4": [{"v":-6.76,"t":0.9991},{"v":-6.0,"t":0.998},{"v":-5.3,"t":0.995},{"v":-4.8,"t":0.99},{"v":-4.4,"t":0.986},{"v":-4.01,"t":0.9838},{"v":-3.6,"t":0.986},{"v":-3.2,"t":0.991},{"v":-2.43,"t":0.9953},{"v":-1.7,"t":0.994},{"v":-1.2,"t":0.991},{"v":-0.73,"t":0.99},{"v":-0.2,"t":0.993},{"v":0.49,"t":0.9953},{"v":1.2,"t":0.993},{"v":1.82,"t":0.99},{"v":2.4,"t":0.993},{"v":3.1,"t":0.9953},{"v":3.9,"t":0.993},{"v":4.5,"t":0.987},{"v":5.06,"t":0.9838},{"v":5.6,"t":0.987},{"v":6.1,"t":0.992},{"v":6.7,"t":0.997},{"v":7.42,"t":0.999}]
},
"vconcat": [
{"width": 510, "height": 380, "layer": [
 {"data": {"name": "p1"}, "mark": {"type": "square", "size": 46, "color": "black", "opacity": 1, "clip": true},
  "encoding": {"x": {"field": "v", "type": "quantitative", "scale": {"domain": [-16, 15.96], "nice": false, "zero": false}, "axis": {"title": null, "values": [-15,-12.5,-10,-7.5,-5,-2.5,0,2.5,5,7.5,10,12.5,15], "labels": false, "tickSize": {"condition": {"test": "abs(datum.value%5)<0.01", "value": 7}, "value": 4}}},
   "y": {"field": "t", "type": "quantitative", "scale": {"domain": [0.87, 1.06], "nice": false, "zero": false}, "axis": {"title": null, "values": [0.875,0.9,0.925,0.95,0.975,1.0,1.025,1.05], "tickSize": {"condition": {"test": "abs(datum.value*20-round(datum.value*20))<0.001", "value": 8}, "value": 4}, "labelExpr": "abs(datum.value*20-round(datum.value*20))<0.001 ? format(datum.value,'.2f') : ''", "labelFontSize": 19.5, "labelPadding": 4}}}},
 {"data": {"name": "a1"}, "mark": {"type": "line", "color": "black", "strokeWidth": 0.9, "interpolate": "monotone", "clip": true}, "encoding": {"x": {"field": "v", "type": "quantitative"}, "y": {"field": "t", "type": "quantitative"}}},
 {"data": {"name": "b1"}, "mark": {"type": "line", "color": "black", "strokeWidth": 0.9, "interpolate": "monotone", "clip": true}, "encoding": {"x": {"field": "v", "type": "quantitative"}, "y": {"field": "t", "type": "quantitative"}}},
 {"data": {"name": "f1"}, "mark": {"type": "line", "color": "black", "strokeWidth": 1.1, "interpolate": "monotone", "clip": true}, "encoding": {"x": {"field": "v", "type": "quantitative"}, "y": {"field": "t", "type": "quantitative"}}},
 {"data": {"values": [{"label": "100Fe10Mo, 280\u00b0C, H\u2082, After pretreatment"}]}, "mark": {"type": "text", "font": "Liberation Sans", "fontSize": 20, "fontWeight": "bold", "align": "center", "baseline": "alphabetic", "color": "black"},
  "encoding": {"x": {"datum": 0.3, "type": "quantitative"}, "y": {"datum": 1.0428, "type": "quantitative"}, "text": {"field": "label"}}}
]},
{"width": 510, "height": 380, "layer": [
 {"data": {"name": "p2"}, "mark": {"type": "square", "size": 46, "color": "black", "opacity": 1, "clip": true},
  "encoding": {"x": {"field": "v", "type": "quantitative", "scale": {"domain": [-16, 15.96], "nice": false, "zero": false}, "axis": {"title": null, "values": [-15,-12.5,-10,-7.5,-5,-2.5,0,2.5,5,7.5,10,12.5,15], "labels": false, "tickSize": {"condition": {"test": "abs(datum.value%5)<0.01", "value": 7}, "value": 4}}},
   "y": {"field": "t", "type": "quantitative", "scale": {"domain": [0.9096, 1.0454], "nice": false, "zero": false}, "axis": {"title": null, "values": [0.925,0.95,0.975,1.0,1.025], "tickSize": {"condition": {"test": "abs(datum.value*20-round(datum.value*20))<0.001", "value": 8}, "value": 4}, "labelExpr": "abs(datum.value*20-round(datum.value*20))<0.001 ? format(datum.value,'.2f') : ''", "labelFontSize": 19.5, "labelPadding": 4}}}},
 {"data": {"name": "a2"}, "mark": {"type": "line", "color": "black", "strokeWidth": 0.9, "interpolate": "monotone", "clip": true}, "encoding": {"x": {"field": "v", "type": "quantitative"}, "y": {"field": "t", "type": "quantitative"}}},
 {"data": {"name": "b2"}, "mark": {"type": "line", "color": "black", "strokeWidth": 0.9, "interpolate": "monotone", "clip": true}, "encoding": {"x": {"field": "v", "type": "quantitative"}, "y": {"field": "t", "type": "quantitative"}}},
 {"data": {"name": "f2"}, "mark": {"type": "line", "color": "black", "strokeWidth": 1.1, "interpolate": "monotone", "clip": true}, "encoding": {"x": {"field": "v", "type": "quantitative"}, "y": {"field": "t", "type": "quantitative"}}},
 {"data": {"values": [{"label": "100Fe10Mo, 350\u00b0C, H\u2082, After pretreatment"}]}, "mark": {"type": "text", "font": "Liberation Sans", "fontSize": 20, "fontWeight": "bold", "align": "center", "baseline": "alphabetic", "color": "black"},
  "encoding": {"x": {"datum": 0.0, "type": "quantitative"}, "y": {"datum": 1.0317, "type": "quantitative"}, "text": {"field": "label"}}}
]},
{"width": 510, "height": 380, "layer": [
 {"data": {"name": "p3"}, "mark": {"type": "square", "size": 46, "color": "black", "opacity": 1, "clip": true},
  "encoding": {"x": {"field": "v", "type": "quantitative", "scale": {"domain": [-16, 15.96], "nice": false, "zero": false}, "axis": {"title": null, "values": [-15,-12.5,-10,-7.5,-5,-2.5,0,2.5,5,7.5,10,12.5,15], "labels": false, "tickSize": {"condition": {"test": "abs(datum.value%5)<0.01", "value": 7}, "value": 4}}},
   "y": {"field": "t", "type": "quantitative", "scale": {"domain": [0.9102, 1.04], "nice": false, "zero": false}, "axis": {"title": "Transmission, a.u.", "titleFontSize": 24, "titleFontWeight": "bold", "titlePadding": 9, "values": [0.925,0.95,0.975,1.0,1.025], "tickSize": {"condition": {"test": "abs(datum.value*20-round(datum.value*20))<0.001", "value": 8}, "value": 4}, "labelExpr": "abs(datum.value*20-round(datum.value*20))<0.001 ? format(datum.value,'.2f') : ''", "labelFontSize": 19.5, "labelPadding": 4}}}},
 {"data": {"name": "a3"}, "mark": {"type": "line", "color": "black", "strokeWidth": 0.9, "interpolate": "monotone", "clip": true}, "encoding": {"x": {"field": "v", "type": "quantitative"}, "y": {"field": "t", "type": "quantitative"}}},
 {"data": {"name": "f3"}, "mark": {"type": "line", "color": "black", "strokeWidth": 1.1, "interpolate": "monotone", "clip": true}, "encoding": {"x": {"field": "v", "type": "quantitative"}, "y": {"field": "t", "type": "quantitative"}}},
 {"data": {"values": [{"label": "100Fe10Mo, 280\u00b0C, H\u2082, After FTS reaction"}]}, "mark": {"type": "text", "font": "Liberation Sans", "fontSize": 20, "fontWeight": "bold", "align": "center", "baseline": "alphabetic", "color": "black"},
  "encoding": {"x": {"datum": 0.3, "type": "quantitative"}, "y": {"datum": 1.0252, "type": "quantitative"}, "text": {"field": "label"}}}
]},
{"width": 510, "height": 380, "layer": [
 {"data": {"name": "p4"}, "mark": {"type": "square", "size": 46, "color": "black", "opacity": 1, "clip": true},
  "encoding": {"x": {"field": "v", "type": "quantitative", "scale": {"domain": [-16, 15.96], "nice": false, "zero": false}, "axis": {"title": "Velocity, mm/s", "titleFontSize": 20.5, "titleFontWeight": "bold", "titlePadding": 13, "values": [-15,-12.5,-10,-7.5,-5,-2.5,0,2.5,5,7.5,10,12.5,15], "labelExpr": "abs(datum.value%5)<0.01 ? ''+datum.value : ''", "labelFontSize": 21, "labelPadding": 5, "labelFlush": false, "tickSize": {"condition": {"test": "abs(datum.value%5)<0.01", "value": 7}, "value": 4}}},
   "y": {"field": "t", "type": "quantitative", "scale": {"domain": [0.9402, 1.0303], "nice": false, "zero": false}, "axis": {"title": null, "values": [0.95,0.975,1.0,1.025], "tickSize": {"condition": {"test": "abs(datum.value*20-round(datum.value*20))<0.001", "value": 8}, "value": 4}, "labelExpr": "abs(datum.value*20-round(datum.value*20))<0.001 ? format(datum.value,'.2f') : ''", "labelFontSize": 19.5, "labelPadding": 4}}}},
 {"data": {"name": "a4"}, "mark": {"type": "line", "color": "black", "strokeWidth": 0.9, "interpolate": "monotone", "clip": true}, "encoding": {"x": {"field": "v", "type": "quantitative"}, "y": {"field": "t", "type": "quantitative"}}},
 {"data": {"name": "b4"}, "mark": {"type": "line", "color": "black", "strokeWidth": 0.9, "interpolate": "monotone", "clip": true}, "encoding": {"x": {"field": "v", "type": "quantitative"}, "y": {"field": "t", "type": "quantitative"}}},
 {"data": {"name": "f4"}, "mark": {"type": "line", "color": "black", "strokeWidth": 1.1, "interpolate": "monotone", "clip": true}, "encoding": {"x": {"field": "v", "type": "quantitative"}, "y": {"field": "t", "type": "quantitative"}}},
 {"data": {"values": [{"label": "100Fe10Mo, 350\u00b0C, H\u2082, After FTS reaction"}]}, "mark": {"type": "text", "font": "Liberation Sans", "fontSize": 20, "fontWeight": "bold", "align": "center", "baseline": "alphabetic", "color": "black"},
  "encoding": {"x": {"datum": 0.2, "type": "quantitative"}, "y": {"datum": 1.0183, "type": "quantitative"}, "text": {"field": "label"}}}
]}
]
}
